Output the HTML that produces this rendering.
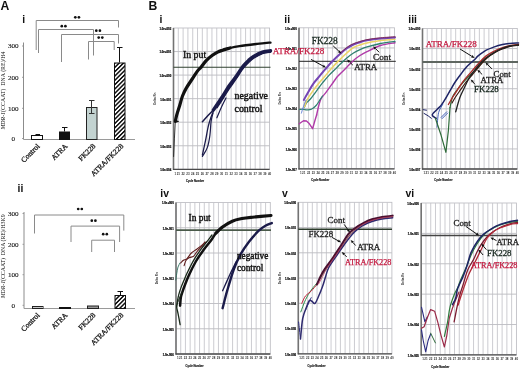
<!DOCTYPE html>
<html><head><meta charset="utf-8"><style>
html,body{margin:0;padding:0;background:#fff;width:520px;height:370px;overflow:hidden}
svg{display:block;filter:blur(0.3px)}
</style></head><body>
<svg width="520" height="370" viewBox="0 0 520 370">
<defs>
<pattern id="hatch" patternUnits="userSpaceOnUse" width="3.05" height="6" patternTransform="rotate(45)">
<rect x="0" y="0" width="1.5" height="6" fill="#111"/>
</pattern>
</defs>
<rect width="520" height="370" fill="#fff"/>

<text x="0.6" y="10.2" font-size="12.2" font-family="Liberation Sans, sans-serif" fill="#111" text-anchor="start" font-weight="bold">A</text>
<text x="22.2" y="22.6" font-size="10.4" font-family="Liberation Sans, sans-serif" fill="#111" text-anchor="start" font-weight="bold">i</text>
<line x1="23.5" y1="42.5" x2="23.5" y2="139.5" stroke="#8c8c8c" stroke-width="1"/>
<line x1="23.5" y1="139.5" x2="135" y2="139.5" stroke="#9a9a9a" stroke-width="1"/>
<line x1="22.0" y1="46" x2="23.5" y2="46" stroke="#8c8c8c" stroke-width="0.8"/>
<text x="13.3" y="48.4" font-size="7.1" font-family="Liberation Serif, serif" fill="#222" text-anchor="middle" stroke="#222" stroke-width="0.15">300</text>
<line x1="22.0" y1="77.3" x2="23.5" y2="77.3" stroke="#8c8c8c" stroke-width="0.8"/>
<text x="13.3" y="79.7" font-size="7.1" font-family="Liberation Serif, serif" fill="#222" text-anchor="middle" stroke="#222" stroke-width="0.15">200</text>
<line x1="22.0" y1="108.3" x2="23.5" y2="108.3" stroke="#8c8c8c" stroke-width="0.8"/>
<text x="13.3" y="110.7" font-size="7.1" font-family="Liberation Serif, serif" fill="#222" text-anchor="middle" stroke="#222" stroke-width="0.15">100</text>
<line x1="22.0" y1="138.5" x2="23.5" y2="138.5" stroke="#8c8c8c" stroke-width="0.8"/>
<text x="13.3" y="140.9" font-size="7.1" font-family="Liberation Serif, serif" fill="#222" text-anchor="middle" stroke="#222" stroke-width="0.15">0</text>
<rect x="31.5" y="135.5" width="11.0" height="4.0" fill="#fff" stroke="#111" stroke-width="1"/>
<rect x="59.5" y="132" width="10.0" height="7.5" fill="#111" stroke="#111" stroke-width="1"/>
<rect x="86.5" y="107.5" width="10.5" height="32.0" fill="#c3d3d1" stroke="#222" stroke-width="1"/>
<rect x="114.5" y="63" width="10.5" height="76.5" fill="url(#hatch)" stroke="#111" stroke-width="1"/>
<path d="M36.2,50 L36.2,20.5 L118.5,20.5 L118.5,27.5" fill="none" stroke="#8a8a8a" stroke-width="1"/>
<path d="M38.5,53 L38.5,29.5 L93.5,29.5 L93.5,55.5" fill="none" stroke="#8a8a8a" stroke-width="1"/>
<path d="M61.5,62 L61.5,34.5 L118.5,34.5 L118.5,43.5" fill="none" stroke="#8a8a8a" stroke-width="1"/>
<path d="M88.5,59.5 L88.5,41.5 L114.2,41.5 L114.2,50" fill="none" stroke="#8a8a8a" stroke-width="1"/>
<circle cx="75.3" cy="17.3" r="1.35" fill="#111"/><circle cx="78.89999999999999" cy="17.3" r="1.35" fill="#111"/>
<circle cx="61.8" cy="26.2" r="1.35" fill="#111"/><circle cx="65.39999999999999" cy="26.2" r="1.35" fill="#111"/>
<circle cx="96.3" cy="30.7" r="1.35" fill="#111"/><circle cx="99.89999999999999" cy="30.7" r="1.35" fill="#111"/>
<circle cx="98.7" cy="37.6" r="1.35" fill="#111"/><circle cx="102.3" cy="37.6" r="1.35" fill="#111"/>
<line x1="64.5" y1="127" x2="64.5" y2="131.5" stroke="#111" stroke-width="1"/>
<line x1="62" y1="127.5" x2="67.5" y2="127.5" stroke="#111" stroke-width="1"/>
<line x1="91.5" y1="100.8" x2="91.5" y2="113.2" stroke="#333" stroke-width="1"/>
<line x1="89" y1="100.5" x2="94.5" y2="100.5" stroke="#333" stroke-width="1"/>
<line x1="89" y1="113.5" x2="94.5" y2="113.5" stroke="#333" stroke-width="1"/>
<line x1="119.5" y1="47.3" x2="119.5" y2="62.5" stroke="#111" stroke-width="1"/>
<line x1="117" y1="47.5" x2="122.5" y2="47.5" stroke="#111" stroke-width="1"/>
<line x1="35.5" y1="134.6" x2="40" y2="134.6" stroke="#111" stroke-width="1.2"/>
<text transform="translate(40.2,146.7) rotate(-45)" font-size="7.5" font-family="Liberation Serif, serif" fill="#111" stroke="#111" stroke-width="0.25" text-anchor="end">Control</text>
<text transform="translate(68,146.7) rotate(-45)" font-size="7.5" font-family="Liberation Serif, serif" fill="#111" stroke="#111" stroke-width="0.25" text-anchor="end">ATRA</text>
<text transform="translate(96,146.7) rotate(-45)" font-size="7.5" font-family="Liberation Serif, serif" fill="#111" stroke="#111" stroke-width="0.25" text-anchor="end">FK228</text>
<text transform="translate(123.8,146.7) rotate(-45)" font-size="7.5" font-family="Liberation Serif, serif" fill="#111" stroke="#111" stroke-width="0.25" text-anchor="end">ATRA/FK228</text>
<text transform="translate(5.3,90.6) rotate(-90)" font-size="5.9" font-family="Liberation Serif, serif" fill="#111" text-anchor="middle" style="white-space:pre"><tspan font-style="italic">MDR-1</tspan>(CCAAT)  DNA (RE)/H4</text>
<text x="17.6" y="191.6" font-size="10.4" font-family="Liberation Sans, sans-serif" fill="#111" text-anchor="start" font-weight="bold">ii</text>
<line x1="24" y1="212" x2="24" y2="308.5" stroke="#8c8c8c" stroke-width="1"/>
<line x1="24" y1="308.5" x2="135" y2="308.5" stroke="#9a9a9a" stroke-width="1"/>
<line x1="22.5" y1="213.5" x2="24" y2="213.5" stroke="#8c8c8c" stroke-width="0.8"/>
<text x="13.3" y="215.9" font-size="7.1" font-family="Liberation Serif, serif" fill="#222" text-anchor="middle" stroke="#222" stroke-width="0.15">300</text>
<line x1="22.5" y1="244.3" x2="24" y2="244.3" stroke="#8c8c8c" stroke-width="0.8"/>
<text x="13.3" y="246.70000000000002" font-size="7.1" font-family="Liberation Serif, serif" fill="#222" text-anchor="middle" stroke="#222" stroke-width="0.15">200</text>
<line x1="22.5" y1="274.7" x2="24" y2="274.7" stroke="#8c8c8c" stroke-width="0.8"/>
<text x="13.3" y="277.09999999999997" font-size="7.1" font-family="Liberation Serif, serif" fill="#222" text-anchor="middle" stroke="#222" stroke-width="0.15">100</text>
<line x1="22.5" y1="305.3" x2="24" y2="305.3" stroke="#8c8c8c" stroke-width="0.8"/>
<text x="13.3" y="307.7" font-size="7.1" font-family="Liberation Serif, serif" fill="#222" text-anchor="middle" stroke="#222" stroke-width="0.15">0</text>
<rect x="32.5" y="306.5" width="10.5" height="2.0" fill="#c8c8c8" stroke="#222" stroke-width="1"/>
<rect x="59.5" y="307.5" width="11.0" height="1.0" fill="#111" stroke="#111" stroke-width="1"/>
<rect x="87.5" y="306" width="11.0" height="2.5" fill="#999" stroke="#222" stroke-width="1"/>
<rect x="115" y="295.5" width="10.5" height="13.0" fill="url(#hatch)" stroke="#111" stroke-width="1"/>
<path d="M34.5,233.5 L34.5,215 L123.8,215 L123.8,230.6" fill="none" stroke="#8a8a8a" stroke-width="1"/>
<path d="M71,242 L71,226.1 L119.6,226.1 L119.6,242" fill="none" stroke="#8a8a8a" stroke-width="1"/>
<path d="M91.7,252 L91.7,240.2 L114.5,240.2 L114.5,252" fill="none" stroke="#8a8a8a" stroke-width="1"/>
<circle cx="78.2" cy="209" r="1.35" fill="#111"/><circle cx="81.8" cy="209" r="1.35" fill="#111"/>
<circle cx="91.8" cy="220.7" r="1.35" fill="#111"/><circle cx="95.39999999999999" cy="220.7" r="1.35" fill="#111"/>
<circle cx="103.2" cy="234.2" r="1.35" fill="#111"/><circle cx="106.8" cy="234.2" r="1.35" fill="#111"/>
<line x1="120.5" y1="291" x2="120.5" y2="295" stroke="#111" stroke-width="1"/>
<line x1="117.5" y1="291.5" x2="123" y2="291.5" stroke="#111" stroke-width="1"/>
<text transform="translate(40.2,315.7) rotate(-45)" font-size="7.5" font-family="Liberation Serif, serif" fill="#111" stroke="#111" stroke-width="0.25" text-anchor="end">Control</text>
<text transform="translate(68,315.7) rotate(-45)" font-size="7.5" font-family="Liberation Serif, serif" fill="#111" stroke="#111" stroke-width="0.25" text-anchor="end">ATRA</text>
<text transform="translate(96,315.7) rotate(-45)" font-size="7.5" font-family="Liberation Serif, serif" fill="#111" stroke="#111" stroke-width="0.25" text-anchor="end">FK228</text>
<text transform="translate(123.8,315.7) rotate(-45)" font-size="7.5" font-family="Liberation Serif, serif" fill="#111" stroke="#111" stroke-width="0.25" text-anchor="end">ATRA/FK228</text>
<text transform="translate(5.3,256.4) rotate(-90)" font-size="5.8" font-family="Liberation Serif, serif" fill="#111" text-anchor="middle" style="white-space:pre"><tspan font-style="italic">MDR-1</tspan>(CCAAT)  DNA (RE)/H3K9</text>
<text x="148.6" y="10.2" font-size="12.2" font-family="Liberation Sans, sans-serif" fill="#111" text-anchor="start" font-weight="bold">B</text>
<text x="159.6" y="22.6" font-size="10.4" font-family="Liberation Sans, sans-serif" fill="#111" text-anchor="start" font-weight="bold">i</text>
<rect x="173.5" y="28" width="96.1" height="141.3" fill="#fff" stroke="#bcbcc2" stroke-width="0.85"/>
<line x1="178.31" y1="28" x2="178.31" y2="169.3" stroke="#c3c3c9" stroke-width="0.85"/>
<line x1="183.11" y1="28" x2="183.11" y2="169.3" stroke="#c3c3c9" stroke-width="0.85"/>
<line x1="187.91" y1="28" x2="187.91" y2="169.3" stroke="#c3c3c9" stroke-width="0.85"/>
<line x1="192.72" y1="28" x2="192.72" y2="169.3" stroke="#c3c3c9" stroke-width="0.85"/>
<line x1="197.53" y1="28" x2="197.53" y2="169.3" stroke="#c3c3c9" stroke-width="0.85"/>
<line x1="202.33" y1="28" x2="202.33" y2="169.3" stroke="#c3c3c9" stroke-width="0.85"/>
<line x1="207.13" y1="28" x2="207.13" y2="169.3" stroke="#c3c3c9" stroke-width="0.85"/>
<line x1="211.94" y1="28" x2="211.94" y2="169.3" stroke="#c3c3c9" stroke-width="0.85"/>
<line x1="216.75" y1="28" x2="216.75" y2="169.3" stroke="#c3c3c9" stroke-width="0.85"/>
<line x1="221.55" y1="28" x2="221.55" y2="169.3" stroke="#c3c3c9" stroke-width="0.85"/>
<line x1="226.36" y1="28" x2="226.36" y2="169.3" stroke="#c3c3c9" stroke-width="0.85"/>
<line x1="231.16" y1="28" x2="231.16" y2="169.3" stroke="#c3c3c9" stroke-width="0.85"/>
<line x1="235.97" y1="28" x2="235.97" y2="169.3" stroke="#c3c3c9" stroke-width="0.85"/>
<line x1="240.77" y1="28" x2="240.77" y2="169.3" stroke="#c3c3c9" stroke-width="0.85"/>
<line x1="245.58" y1="28" x2="245.58" y2="169.3" stroke="#c3c3c9" stroke-width="0.85"/>
<line x1="250.38" y1="28" x2="250.38" y2="169.3" stroke="#c3c3c9" stroke-width="0.85"/>
<line x1="255.19" y1="28" x2="255.19" y2="169.3" stroke="#c3c3c9" stroke-width="0.85"/>
<line x1="259.99" y1="28" x2="259.99" y2="169.3" stroke="#c3c3c9" stroke-width="0.85"/>
<line x1="264.8" y1="28" x2="264.8" y2="169.3" stroke="#c3c3c9" stroke-width="0.85"/>
<line x1="173.5" y1="51.55" x2="269.6" y2="51.55" stroke="#bbbbc1" stroke-width="0.9"/>
<line x1="173.5" y1="75.1" x2="269.6" y2="75.1" stroke="#bbbbc1" stroke-width="0.9"/>
<line x1="173.5" y1="98.65" x2="269.6" y2="98.65" stroke="#bbbbc1" stroke-width="0.9"/>
<line x1="173.5" y1="122.2" x2="269.6" y2="122.2" stroke="#bbbbc1" stroke-width="0.9"/>
<line x1="173.5" y1="145.75" x2="269.6" y2="145.75" stroke="#bbbbc1" stroke-width="0.9"/>
<line x1="173.5" y1="28" x2="173.5" y2="169.8" stroke="#737373" stroke-width="1.6"/>
<line x1="173.0" y1="169.3" x2="269.6" y2="169.3" stroke="#4a4a4a" stroke-width="1.3"/>
<text x="171.2" y="29.9" font-size="2.8" font-family="Liberation Sans, sans-serif" fill="#111" text-anchor="end" font-weight="bold" stroke="#111" stroke-width="0.2">1.0e+002</text>
<text x="171.2" y="53.45" font-size="2.8" font-family="Liberation Sans, sans-serif" fill="#111" text-anchor="end" font-weight="bold" stroke="#111" stroke-width="0.2">1.0e+001</text>
<text x="171.2" y="77.0" font-size="2.8" font-family="Liberation Sans, sans-serif" fill="#111" text-anchor="end" font-weight="bold" stroke="#111" stroke-width="0.2">1.0e+000</text>
<text x="171.2" y="100.55" font-size="2.8" font-family="Liberation Sans, sans-serif" fill="#111" text-anchor="end" font-weight="bold" stroke="#111" stroke-width="0.2">1.0e-001</text>
<text x="171.2" y="124.1" font-size="2.8" font-family="Liberation Sans, sans-serif" fill="#111" text-anchor="end" font-weight="bold" stroke="#111" stroke-width="0.2">1.0e-002</text>
<text x="171.2" y="147.65" font-size="2.8" font-family="Liberation Sans, sans-serif" fill="#111" text-anchor="end" font-weight="bold" stroke="#111" stroke-width="0.2">1.0e-003</text>
<text x="171.2" y="171.2" font-size="2.8" font-family="Liberation Sans, sans-serif" fill="#111" text-anchor="end" font-weight="bold" stroke="#111" stroke-width="0.2">1.0e-004</text>
<text x="175.4" y="174.60000000000002" font-size="3.0" font-family="Liberation Sans, sans-serif" fill="#333" text-anchor="middle" font-weight="bold">1</text>
<text x="178.31" y="174.60000000000002" font-size="3.0" font-family="Liberation Sans, sans-serif" fill="#333" text-anchor="middle" font-weight="bold">21</text>
<text x="183.11" y="174.60000000000002" font-size="3.0" font-family="Liberation Sans, sans-serif" fill="#333" text-anchor="middle" font-weight="bold">22</text>
<text x="187.91" y="174.60000000000002" font-size="3.0" font-family="Liberation Sans, sans-serif" fill="#333" text-anchor="middle" font-weight="bold">23</text>
<text x="192.72" y="174.60000000000002" font-size="3.0" font-family="Liberation Sans, sans-serif" fill="#333" text-anchor="middle" font-weight="bold">24</text>
<text x="197.53" y="174.60000000000002" font-size="3.0" font-family="Liberation Sans, sans-serif" fill="#333" text-anchor="middle" font-weight="bold">25</text>
<text x="202.33" y="174.60000000000002" font-size="3.0" font-family="Liberation Sans, sans-serif" fill="#333" text-anchor="middle" font-weight="bold">26</text>
<text x="207.13" y="174.60000000000002" font-size="3.0" font-family="Liberation Sans, sans-serif" fill="#333" text-anchor="middle" font-weight="bold">27</text>
<text x="211.94" y="174.60000000000002" font-size="3.0" font-family="Liberation Sans, sans-serif" fill="#333" text-anchor="middle" font-weight="bold">28</text>
<text x="216.75" y="174.60000000000002" font-size="3.0" font-family="Liberation Sans, sans-serif" fill="#333" text-anchor="middle" font-weight="bold">29</text>
<text x="221.55" y="174.60000000000002" font-size="3.0" font-family="Liberation Sans, sans-serif" fill="#333" text-anchor="middle" font-weight="bold">30</text>
<text x="226.36" y="174.60000000000002" font-size="3.0" font-family="Liberation Sans, sans-serif" fill="#333" text-anchor="middle" font-weight="bold">31</text>
<text x="231.16" y="174.60000000000002" font-size="3.0" font-family="Liberation Sans, sans-serif" fill="#333" text-anchor="middle" font-weight="bold">32</text>
<text x="235.97" y="174.60000000000002" font-size="3.0" font-family="Liberation Sans, sans-serif" fill="#333" text-anchor="middle" font-weight="bold">33</text>
<text x="240.77" y="174.60000000000002" font-size="3.0" font-family="Liberation Sans, sans-serif" fill="#333" text-anchor="middle" font-weight="bold">34</text>
<text x="245.58" y="174.60000000000002" font-size="3.0" font-family="Liberation Sans, sans-serif" fill="#333" text-anchor="middle" font-weight="bold">35</text>
<text x="250.38" y="174.60000000000002" font-size="3.0" font-family="Liberation Sans, sans-serif" fill="#333" text-anchor="middle" font-weight="bold">36</text>
<text x="255.19" y="174.60000000000002" font-size="3.0" font-family="Liberation Sans, sans-serif" fill="#333" text-anchor="middle" font-weight="bold">37</text>
<text x="259.99" y="174.60000000000002" font-size="3.0" font-family="Liberation Sans, sans-serif" fill="#333" text-anchor="middle" font-weight="bold">38</text>
<text x="264.8" y="174.60000000000002" font-size="3.0" font-family="Liberation Sans, sans-serif" fill="#333" text-anchor="middle" font-weight="bold">39</text>
<text x="269.6" y="174.60000000000002" font-size="3.0" font-family="Liberation Sans, sans-serif" fill="#333" text-anchor="middle" font-weight="bold">40</text>
<text x="195.05" y="181.60000000000002" font-size="2.7" font-family="Liberation Sans, sans-serif" fill="#222" text-anchor="middle" font-weight="bold" stroke="#222" stroke-width="0.15">Cycle Number</text>
<text transform="translate(155.9,98.65) rotate(-90)" font-size="3.0" font-family="Liberation Sans, sans-serif" font-weight="bold" fill="#333" text-anchor="middle">Delta Rn</text>
<text x="284.3" y="22.6" font-size="10.4" font-family="Liberation Sans, sans-serif" fill="#111" text-anchor="start" font-weight="bold">ii</text>
<rect x="299" y="27.8" width="95.5" height="141.1" fill="#fff" stroke="#bcbcc2" stroke-width="0.85"/>
<line x1="303.77" y1="27.8" x2="303.77" y2="168.9" stroke="#c3c3c9" stroke-width="0.85"/>
<line x1="308.55" y1="27.8" x2="308.55" y2="168.9" stroke="#c3c3c9" stroke-width="0.85"/>
<line x1="313.32" y1="27.8" x2="313.32" y2="168.9" stroke="#c3c3c9" stroke-width="0.85"/>
<line x1="318.1" y1="27.8" x2="318.1" y2="168.9" stroke="#c3c3c9" stroke-width="0.85"/>
<line x1="322.88" y1="27.8" x2="322.88" y2="168.9" stroke="#c3c3c9" stroke-width="0.85"/>
<line x1="327.65" y1="27.8" x2="327.65" y2="168.9" stroke="#c3c3c9" stroke-width="0.85"/>
<line x1="332.43" y1="27.8" x2="332.43" y2="168.9" stroke="#c3c3c9" stroke-width="0.85"/>
<line x1="337.2" y1="27.8" x2="337.2" y2="168.9" stroke="#c3c3c9" stroke-width="0.85"/>
<line x1="341.98" y1="27.8" x2="341.98" y2="168.9" stroke="#c3c3c9" stroke-width="0.85"/>
<line x1="346.75" y1="27.8" x2="346.75" y2="168.9" stroke="#c3c3c9" stroke-width="0.85"/>
<line x1="351.52" y1="27.8" x2="351.52" y2="168.9" stroke="#c3c3c9" stroke-width="0.85"/>
<line x1="356.3" y1="27.8" x2="356.3" y2="168.9" stroke="#c3c3c9" stroke-width="0.85"/>
<line x1="361.07" y1="27.8" x2="361.07" y2="168.9" stroke="#c3c3c9" stroke-width="0.85"/>
<line x1="365.85" y1="27.8" x2="365.85" y2="168.9" stroke="#c3c3c9" stroke-width="0.85"/>
<line x1="370.62" y1="27.8" x2="370.62" y2="168.9" stroke="#c3c3c9" stroke-width="0.85"/>
<line x1="375.4" y1="27.8" x2="375.4" y2="168.9" stroke="#c3c3c9" stroke-width="0.85"/>
<line x1="380.18" y1="27.8" x2="380.18" y2="168.9" stroke="#c3c3c9" stroke-width="0.85"/>
<line x1="384.95" y1="27.8" x2="384.95" y2="168.9" stroke="#c3c3c9" stroke-width="0.85"/>
<line x1="389.73" y1="27.8" x2="389.73" y2="168.9" stroke="#c3c3c9" stroke-width="0.85"/>
<line x1="299" y1="47.96" x2="394.5" y2="47.96" stroke="#bbbbc1" stroke-width="0.9"/>
<line x1="299" y1="68.11" x2="394.5" y2="68.11" stroke="#bbbbc1" stroke-width="0.9"/>
<line x1="299" y1="88.27" x2="394.5" y2="88.27" stroke="#bbbbc1" stroke-width="0.9"/>
<line x1="299" y1="108.43" x2="394.5" y2="108.43" stroke="#bbbbc1" stroke-width="0.9"/>
<line x1="299" y1="128.59" x2="394.5" y2="128.59" stroke="#bbbbc1" stroke-width="0.9"/>
<line x1="299" y1="148.74" x2="394.5" y2="148.74" stroke="#bbbbc1" stroke-width="0.9"/>
<line x1="299" y1="27.8" x2="299" y2="169.4" stroke="#737373" stroke-width="1.6"/>
<line x1="298.5" y1="168.9" x2="394.5" y2="168.9" stroke="#4a4a4a" stroke-width="1.3"/>
<text x="296.7" y="29.7" font-size="2.8" font-family="Liberation Sans, sans-serif" fill="#111" text-anchor="end" font-weight="bold" stroke="#111" stroke-width="0.2">1.0e+000</text>
<text x="296.7" y="49.86" font-size="2.8" font-family="Liberation Sans, sans-serif" fill="#111" text-anchor="end" font-weight="bold" stroke="#111" stroke-width="0.2">1.0e-001</text>
<text x="296.7" y="70.01" font-size="2.8" font-family="Liberation Sans, sans-serif" fill="#111" text-anchor="end" font-weight="bold" stroke="#111" stroke-width="0.2">1.0e-002</text>
<text x="296.7" y="90.17" font-size="2.8" font-family="Liberation Sans, sans-serif" fill="#111" text-anchor="end" font-weight="bold" stroke="#111" stroke-width="0.2">1.0e-003</text>
<text x="296.7" y="110.33" font-size="2.8" font-family="Liberation Sans, sans-serif" fill="#111" text-anchor="end" font-weight="bold" stroke="#111" stroke-width="0.2">1.0e-004</text>
<text x="296.7" y="130.49" font-size="2.8" font-family="Liberation Sans, sans-serif" fill="#111" text-anchor="end" font-weight="bold" stroke="#111" stroke-width="0.2">1.0e-005</text>
<text x="296.7" y="150.64" font-size="2.8" font-family="Liberation Sans, sans-serif" fill="#111" text-anchor="end" font-weight="bold" stroke="#111" stroke-width="0.2">1.0e-006</text>
<text x="296.7" y="170.8" font-size="2.8" font-family="Liberation Sans, sans-serif" fill="#111" text-anchor="end" font-weight="bold" stroke="#111" stroke-width="0.2">1.0e-007</text>
<text x="300.9" y="174.20000000000002" font-size="3.0" font-family="Liberation Sans, sans-serif" fill="#333" text-anchor="middle" font-weight="bold">1</text>
<text x="303.77" y="174.20000000000002" font-size="3.0" font-family="Liberation Sans, sans-serif" fill="#333" text-anchor="middle" font-weight="bold">21</text>
<text x="308.55" y="174.20000000000002" font-size="3.0" font-family="Liberation Sans, sans-serif" fill="#333" text-anchor="middle" font-weight="bold">22</text>
<text x="313.32" y="174.20000000000002" font-size="3.0" font-family="Liberation Sans, sans-serif" fill="#333" text-anchor="middle" font-weight="bold">23</text>
<text x="318.1" y="174.20000000000002" font-size="3.0" font-family="Liberation Sans, sans-serif" fill="#333" text-anchor="middle" font-weight="bold">24</text>
<text x="322.88" y="174.20000000000002" font-size="3.0" font-family="Liberation Sans, sans-serif" fill="#333" text-anchor="middle" font-weight="bold">25</text>
<text x="327.65" y="174.20000000000002" font-size="3.0" font-family="Liberation Sans, sans-serif" fill="#333" text-anchor="middle" font-weight="bold">26</text>
<text x="332.43" y="174.20000000000002" font-size="3.0" font-family="Liberation Sans, sans-serif" fill="#333" text-anchor="middle" font-weight="bold">27</text>
<text x="337.2" y="174.20000000000002" font-size="3.0" font-family="Liberation Sans, sans-serif" fill="#333" text-anchor="middle" font-weight="bold">28</text>
<text x="341.98" y="174.20000000000002" font-size="3.0" font-family="Liberation Sans, sans-serif" fill="#333" text-anchor="middle" font-weight="bold">29</text>
<text x="346.75" y="174.20000000000002" font-size="3.0" font-family="Liberation Sans, sans-serif" fill="#333" text-anchor="middle" font-weight="bold">30</text>
<text x="351.52" y="174.20000000000002" font-size="3.0" font-family="Liberation Sans, sans-serif" fill="#333" text-anchor="middle" font-weight="bold">31</text>
<text x="356.3" y="174.20000000000002" font-size="3.0" font-family="Liberation Sans, sans-serif" fill="#333" text-anchor="middle" font-weight="bold">32</text>
<text x="361.07" y="174.20000000000002" font-size="3.0" font-family="Liberation Sans, sans-serif" fill="#333" text-anchor="middle" font-weight="bold">33</text>
<text x="365.85" y="174.20000000000002" font-size="3.0" font-family="Liberation Sans, sans-serif" fill="#333" text-anchor="middle" font-weight="bold">34</text>
<text x="370.62" y="174.20000000000002" font-size="3.0" font-family="Liberation Sans, sans-serif" fill="#333" text-anchor="middle" font-weight="bold">35</text>
<text x="375.4" y="174.20000000000002" font-size="3.0" font-family="Liberation Sans, sans-serif" fill="#333" text-anchor="middle" font-weight="bold">36</text>
<text x="380.18" y="174.20000000000002" font-size="3.0" font-family="Liberation Sans, sans-serif" fill="#333" text-anchor="middle" font-weight="bold">37</text>
<text x="384.95" y="174.20000000000002" font-size="3.0" font-family="Liberation Sans, sans-serif" fill="#333" text-anchor="middle" font-weight="bold">38</text>
<text x="389.73" y="174.20000000000002" font-size="3.0" font-family="Liberation Sans, sans-serif" fill="#333" text-anchor="middle" font-weight="bold">39</text>
<text x="394.5" y="174.20000000000002" font-size="3.0" font-family="Liberation Sans, sans-serif" fill="#333" text-anchor="middle" font-weight="bold">40</text>
<text x="320.25" y="181.20000000000002" font-size="2.7" font-family="Liberation Sans, sans-serif" fill="#222" text-anchor="middle" font-weight="bold" stroke="#222" stroke-width="0.15">Cycle Number</text>
<text transform="translate(281.4,98.35000000000001) rotate(-90)" font-size="3.0" font-family="Liberation Sans, sans-serif" font-weight="bold" fill="#333" text-anchor="middle">Delta Rn</text>
<text x="408.3" y="22.6" font-size="10.4" font-family="Liberation Sans, sans-serif" fill="#111" text-anchor="start" font-weight="bold">iii</text>
<rect x="422.5" y="28.5" width="94.8" height="140.5" fill="#fff" stroke="#bcbcc2" stroke-width="0.85"/>
<line x1="427.24" y1="28.5" x2="427.24" y2="169" stroke="#c3c3c9" stroke-width="0.85"/>
<line x1="431.98" y1="28.5" x2="431.98" y2="169" stroke="#c3c3c9" stroke-width="0.85"/>
<line x1="436.72" y1="28.5" x2="436.72" y2="169" stroke="#c3c3c9" stroke-width="0.85"/>
<line x1="441.46" y1="28.5" x2="441.46" y2="169" stroke="#c3c3c9" stroke-width="0.85"/>
<line x1="446.2" y1="28.5" x2="446.2" y2="169" stroke="#c3c3c9" stroke-width="0.85"/>
<line x1="450.94" y1="28.5" x2="450.94" y2="169" stroke="#c3c3c9" stroke-width="0.85"/>
<line x1="455.68" y1="28.5" x2="455.68" y2="169" stroke="#c3c3c9" stroke-width="0.85"/>
<line x1="460.42" y1="28.5" x2="460.42" y2="169" stroke="#c3c3c9" stroke-width="0.85"/>
<line x1="465.16" y1="28.5" x2="465.16" y2="169" stroke="#c3c3c9" stroke-width="0.85"/>
<line x1="469.9" y1="28.5" x2="469.9" y2="169" stroke="#c3c3c9" stroke-width="0.85"/>
<line x1="474.64" y1="28.5" x2="474.64" y2="169" stroke="#c3c3c9" stroke-width="0.85"/>
<line x1="479.38" y1="28.5" x2="479.38" y2="169" stroke="#c3c3c9" stroke-width="0.85"/>
<line x1="484.12" y1="28.5" x2="484.12" y2="169" stroke="#c3c3c9" stroke-width="0.85"/>
<line x1="488.86" y1="28.5" x2="488.86" y2="169" stroke="#c3c3c9" stroke-width="0.85"/>
<line x1="493.6" y1="28.5" x2="493.6" y2="169" stroke="#c3c3c9" stroke-width="0.85"/>
<line x1="498.34" y1="28.5" x2="498.34" y2="169" stroke="#c3c3c9" stroke-width="0.85"/>
<line x1="503.08" y1="28.5" x2="503.08" y2="169" stroke="#c3c3c9" stroke-width="0.85"/>
<line x1="507.82" y1="28.5" x2="507.82" y2="169" stroke="#c3c3c9" stroke-width="0.85"/>
<line x1="512.56" y1="28.5" x2="512.56" y2="169" stroke="#c3c3c9" stroke-width="0.85"/>
<line x1="422.5" y1="48.57" x2="517.3" y2="48.57" stroke="#bbbbc1" stroke-width="0.9"/>
<line x1="422.5" y1="68.64" x2="517.3" y2="68.64" stroke="#bbbbc1" stroke-width="0.9"/>
<line x1="422.5" y1="88.71" x2="517.3" y2="88.71" stroke="#bbbbc1" stroke-width="0.9"/>
<line x1="422.5" y1="108.79" x2="517.3" y2="108.79" stroke="#bbbbc1" stroke-width="0.9"/>
<line x1="422.5" y1="128.86" x2="517.3" y2="128.86" stroke="#bbbbc1" stroke-width="0.9"/>
<line x1="422.5" y1="148.93" x2="517.3" y2="148.93" stroke="#bbbbc1" stroke-width="0.9"/>
<line x1="422.5" y1="28.5" x2="422.5" y2="169.5" stroke="#737373" stroke-width="1.6"/>
<line x1="422.0" y1="169" x2="517.3" y2="169" stroke="#4a4a4a" stroke-width="1.3"/>
<text x="420.2" y="30.4" font-size="2.8" font-family="Liberation Sans, sans-serif" fill="#111" text-anchor="end" font-weight="bold" stroke="#111" stroke-width="0.2">1.0e+000</text>
<text x="420.2" y="50.47" font-size="2.8" font-family="Liberation Sans, sans-serif" fill="#111" text-anchor="end" font-weight="bold" stroke="#111" stroke-width="0.2">1.0e-001</text>
<text x="420.2" y="70.54" font-size="2.8" font-family="Liberation Sans, sans-serif" fill="#111" text-anchor="end" font-weight="bold" stroke="#111" stroke-width="0.2">1.0e-002</text>
<text x="420.2" y="90.61" font-size="2.8" font-family="Liberation Sans, sans-serif" fill="#111" text-anchor="end" font-weight="bold" stroke="#111" stroke-width="0.2">1.0e-003</text>
<text x="420.2" y="110.69" font-size="2.8" font-family="Liberation Sans, sans-serif" fill="#111" text-anchor="end" font-weight="bold" stroke="#111" stroke-width="0.2">1.0e-004</text>
<text x="420.2" y="130.76" font-size="2.8" font-family="Liberation Sans, sans-serif" fill="#111" text-anchor="end" font-weight="bold" stroke="#111" stroke-width="0.2">1.0e-005</text>
<text x="420.2" y="150.83" font-size="2.8" font-family="Liberation Sans, sans-serif" fill="#111" text-anchor="end" font-weight="bold" stroke="#111" stroke-width="0.2">1.0e-006</text>
<text x="420.2" y="170.9" font-size="2.8" font-family="Liberation Sans, sans-serif" fill="#111" text-anchor="end" font-weight="bold" stroke="#111" stroke-width="0.2">1.0e-007</text>
<text x="424.4" y="174.3" font-size="3.0" font-family="Liberation Sans, sans-serif" fill="#333" text-anchor="middle" font-weight="bold">1</text>
<text x="427.24" y="174.3" font-size="3.0" font-family="Liberation Sans, sans-serif" fill="#333" text-anchor="middle" font-weight="bold">21</text>
<text x="431.98" y="174.3" font-size="3.0" font-family="Liberation Sans, sans-serif" fill="#333" text-anchor="middle" font-weight="bold">22</text>
<text x="436.72" y="174.3" font-size="3.0" font-family="Liberation Sans, sans-serif" fill="#333" text-anchor="middle" font-weight="bold">23</text>
<text x="441.46" y="174.3" font-size="3.0" font-family="Liberation Sans, sans-serif" fill="#333" text-anchor="middle" font-weight="bold">24</text>
<text x="446.2" y="174.3" font-size="3.0" font-family="Liberation Sans, sans-serif" fill="#333" text-anchor="middle" font-weight="bold">25</text>
<text x="450.94" y="174.3" font-size="3.0" font-family="Liberation Sans, sans-serif" fill="#333" text-anchor="middle" font-weight="bold">26</text>
<text x="455.68" y="174.3" font-size="3.0" font-family="Liberation Sans, sans-serif" fill="#333" text-anchor="middle" font-weight="bold">27</text>
<text x="460.42" y="174.3" font-size="3.0" font-family="Liberation Sans, sans-serif" fill="#333" text-anchor="middle" font-weight="bold">28</text>
<text x="465.16" y="174.3" font-size="3.0" font-family="Liberation Sans, sans-serif" fill="#333" text-anchor="middle" font-weight="bold">29</text>
<text x="469.9" y="174.3" font-size="3.0" font-family="Liberation Sans, sans-serif" fill="#333" text-anchor="middle" font-weight="bold">30</text>
<text x="474.64" y="174.3" font-size="3.0" font-family="Liberation Sans, sans-serif" fill="#333" text-anchor="middle" font-weight="bold">31</text>
<text x="479.38" y="174.3" font-size="3.0" font-family="Liberation Sans, sans-serif" fill="#333" text-anchor="middle" font-weight="bold">32</text>
<text x="484.12" y="174.3" font-size="3.0" font-family="Liberation Sans, sans-serif" fill="#333" text-anchor="middle" font-weight="bold">33</text>
<text x="488.86" y="174.3" font-size="3.0" font-family="Liberation Sans, sans-serif" fill="#333" text-anchor="middle" font-weight="bold">34</text>
<text x="493.6" y="174.3" font-size="3.0" font-family="Liberation Sans, sans-serif" fill="#333" text-anchor="middle" font-weight="bold">35</text>
<text x="498.34" y="174.3" font-size="3.0" font-family="Liberation Sans, sans-serif" fill="#333" text-anchor="middle" font-weight="bold">36</text>
<text x="503.08" y="174.3" font-size="3.0" font-family="Liberation Sans, sans-serif" fill="#333" text-anchor="middle" font-weight="bold">37</text>
<text x="507.82" y="174.3" font-size="3.0" font-family="Liberation Sans, sans-serif" fill="#333" text-anchor="middle" font-weight="bold">38</text>
<text x="512.56" y="174.3" font-size="3.0" font-family="Liberation Sans, sans-serif" fill="#333" text-anchor="middle" font-weight="bold">39</text>
<text x="517.3" y="174.3" font-size="3.0" font-family="Liberation Sans, sans-serif" fill="#333" text-anchor="middle" font-weight="bold">40</text>
<text x="443.4" y="181.3" font-size="2.7" font-family="Liberation Sans, sans-serif" fill="#222" text-anchor="middle" font-weight="bold" stroke="#222" stroke-width="0.15">Cycle Number</text>
<text transform="translate(404.9,98.75) rotate(-90)" font-size="3.0" font-family="Liberation Sans, sans-serif" font-weight="bold" fill="#333" text-anchor="middle">Delta Rn</text>
<text x="160.3" y="196.6" font-size="10.4" font-family="Liberation Sans, sans-serif" fill="#111" text-anchor="start" font-weight="bold">iv</text>
<rect x="176" y="202.5" width="94.3" height="151.5" fill="#fff" stroke="#bcbcc2" stroke-width="0.85"/>
<line x1="180.72" y1="202.5" x2="180.72" y2="354" stroke="#c3c3c9" stroke-width="0.85"/>
<line x1="185.43" y1="202.5" x2="185.43" y2="354" stroke="#c3c3c9" stroke-width="0.85"/>
<line x1="190.15" y1="202.5" x2="190.15" y2="354" stroke="#c3c3c9" stroke-width="0.85"/>
<line x1="194.86" y1="202.5" x2="194.86" y2="354" stroke="#c3c3c9" stroke-width="0.85"/>
<line x1="199.57" y1="202.5" x2="199.57" y2="354" stroke="#c3c3c9" stroke-width="0.85"/>
<line x1="204.29" y1="202.5" x2="204.29" y2="354" stroke="#c3c3c9" stroke-width="0.85"/>
<line x1="209.0" y1="202.5" x2="209.0" y2="354" stroke="#c3c3c9" stroke-width="0.85"/>
<line x1="213.72" y1="202.5" x2="213.72" y2="354" stroke="#c3c3c9" stroke-width="0.85"/>
<line x1="218.44" y1="202.5" x2="218.44" y2="354" stroke="#c3c3c9" stroke-width="0.85"/>
<line x1="223.15" y1="202.5" x2="223.15" y2="354" stroke="#c3c3c9" stroke-width="0.85"/>
<line x1="227.87" y1="202.5" x2="227.87" y2="354" stroke="#c3c3c9" stroke-width="0.85"/>
<line x1="232.58" y1="202.5" x2="232.58" y2="354" stroke="#c3c3c9" stroke-width="0.85"/>
<line x1="237.3" y1="202.5" x2="237.3" y2="354" stroke="#c3c3c9" stroke-width="0.85"/>
<line x1="242.01" y1="202.5" x2="242.01" y2="354" stroke="#c3c3c9" stroke-width="0.85"/>
<line x1="246.73" y1="202.5" x2="246.73" y2="354" stroke="#c3c3c9" stroke-width="0.85"/>
<line x1="251.44" y1="202.5" x2="251.44" y2="354" stroke="#c3c3c9" stroke-width="0.85"/>
<line x1="256.15" y1="202.5" x2="256.15" y2="354" stroke="#c3c3c9" stroke-width="0.85"/>
<line x1="260.87" y1="202.5" x2="260.87" y2="354" stroke="#c3c3c9" stroke-width="0.85"/>
<line x1="265.59" y1="202.5" x2="265.59" y2="354" stroke="#c3c3c9" stroke-width="0.85"/>
<line x1="176" y1="227.75" x2="270.3" y2="227.75" stroke="#bbbbc1" stroke-width="0.9"/>
<line x1="176" y1="253.0" x2="270.3" y2="253.0" stroke="#bbbbc1" stroke-width="0.9"/>
<line x1="176" y1="278.25" x2="270.3" y2="278.25" stroke="#bbbbc1" stroke-width="0.9"/>
<line x1="176" y1="303.5" x2="270.3" y2="303.5" stroke="#bbbbc1" stroke-width="0.9"/>
<line x1="176" y1="328.75" x2="270.3" y2="328.75" stroke="#bbbbc1" stroke-width="0.9"/>
<line x1="176" y1="202.5" x2="176" y2="354.5" stroke="#737373" stroke-width="1.6"/>
<line x1="175.5" y1="354" x2="270.3" y2="354" stroke="#4a4a4a" stroke-width="1.3"/>
<text x="173.7" y="204.4" font-size="2.8" font-family="Liberation Sans, sans-serif" fill="#111" text-anchor="end" font-weight="bold" stroke="#111" stroke-width="0.2">1.0e+000</text>
<text x="173.7" y="229.65" font-size="2.8" font-family="Liberation Sans, sans-serif" fill="#111" text-anchor="end" font-weight="bold" stroke="#111" stroke-width="0.2">1.0e-001</text>
<text x="173.7" y="254.9" font-size="2.8" font-family="Liberation Sans, sans-serif" fill="#111" text-anchor="end" font-weight="bold" stroke="#111" stroke-width="0.2">1.0e-002</text>
<text x="173.7" y="280.15" font-size="2.8" font-family="Liberation Sans, sans-serif" fill="#111" text-anchor="end" font-weight="bold" stroke="#111" stroke-width="0.2">1.0e-003</text>
<text x="173.7" y="305.4" font-size="2.8" font-family="Liberation Sans, sans-serif" fill="#111" text-anchor="end" font-weight="bold" stroke="#111" stroke-width="0.2">1.0e-004</text>
<text x="173.7" y="330.65" font-size="2.8" font-family="Liberation Sans, sans-serif" fill="#111" text-anchor="end" font-weight="bold" stroke="#111" stroke-width="0.2">1.0e-005</text>
<text x="173.7" y="355.9" font-size="2.8" font-family="Liberation Sans, sans-serif" fill="#111" text-anchor="end" font-weight="bold" stroke="#111" stroke-width="0.2">1.0e-006</text>
<text x="177.9" y="359.3" font-size="3.0" font-family="Liberation Sans, sans-serif" fill="#333" text-anchor="middle" font-weight="bold">1</text>
<text x="180.72" y="359.3" font-size="3.0" font-family="Liberation Sans, sans-serif" fill="#333" text-anchor="middle" font-weight="bold">21</text>
<text x="185.43" y="359.3" font-size="3.0" font-family="Liberation Sans, sans-serif" fill="#333" text-anchor="middle" font-weight="bold">22</text>
<text x="190.15" y="359.3" font-size="3.0" font-family="Liberation Sans, sans-serif" fill="#333" text-anchor="middle" font-weight="bold">23</text>
<text x="194.86" y="359.3" font-size="3.0" font-family="Liberation Sans, sans-serif" fill="#333" text-anchor="middle" font-weight="bold">24</text>
<text x="199.57" y="359.3" font-size="3.0" font-family="Liberation Sans, sans-serif" fill="#333" text-anchor="middle" font-weight="bold">25</text>
<text x="204.29" y="359.3" font-size="3.0" font-family="Liberation Sans, sans-serif" fill="#333" text-anchor="middle" font-weight="bold">26</text>
<text x="209.0" y="359.3" font-size="3.0" font-family="Liberation Sans, sans-serif" fill="#333" text-anchor="middle" font-weight="bold">27</text>
<text x="213.72" y="359.3" font-size="3.0" font-family="Liberation Sans, sans-serif" fill="#333" text-anchor="middle" font-weight="bold">28</text>
<text x="218.44" y="359.3" font-size="3.0" font-family="Liberation Sans, sans-serif" fill="#333" text-anchor="middle" font-weight="bold">29</text>
<text x="223.15" y="359.3" font-size="3.0" font-family="Liberation Sans, sans-serif" fill="#333" text-anchor="middle" font-weight="bold">30</text>
<text x="227.87" y="359.3" font-size="3.0" font-family="Liberation Sans, sans-serif" fill="#333" text-anchor="middle" font-weight="bold">31</text>
<text x="232.58" y="359.3" font-size="3.0" font-family="Liberation Sans, sans-serif" fill="#333" text-anchor="middle" font-weight="bold">32</text>
<text x="237.3" y="359.3" font-size="3.0" font-family="Liberation Sans, sans-serif" fill="#333" text-anchor="middle" font-weight="bold">33</text>
<text x="242.01" y="359.3" font-size="3.0" font-family="Liberation Sans, sans-serif" fill="#333" text-anchor="middle" font-weight="bold">34</text>
<text x="246.73" y="359.3" font-size="3.0" font-family="Liberation Sans, sans-serif" fill="#333" text-anchor="middle" font-weight="bold">35</text>
<text x="251.44" y="359.3" font-size="3.0" font-family="Liberation Sans, sans-serif" fill="#333" text-anchor="middle" font-weight="bold">36</text>
<text x="256.15" y="359.3" font-size="3.0" font-family="Liberation Sans, sans-serif" fill="#333" text-anchor="middle" font-weight="bold">37</text>
<text x="260.87" y="359.3" font-size="3.0" font-family="Liberation Sans, sans-serif" fill="#333" text-anchor="middle" font-weight="bold">38</text>
<text x="265.59" y="359.3" font-size="3.0" font-family="Liberation Sans, sans-serif" fill="#333" text-anchor="middle" font-weight="bold">39</text>
<text x="270.3" y="359.3" font-size="3.0" font-family="Liberation Sans, sans-serif" fill="#333" text-anchor="middle" font-weight="bold">40</text>
<text x="194.55" y="367.4" font-size="2.7" font-family="Liberation Sans, sans-serif" fill="#222" text-anchor="middle" font-weight="bold" stroke="#222" stroke-width="0.15">Cycle Number</text>
<text transform="translate(158.4,278.25) rotate(-90)" font-size="3.0" font-family="Liberation Sans, sans-serif" font-weight="bold" fill="#333" text-anchor="middle">Delta Rn</text>
<text x="282" y="196.6" font-size="10.4" font-family="Liberation Sans, sans-serif" fill="#111" text-anchor="start" font-weight="bold">v</text>
<rect x="298.3" y="202.3" width="93.6" height="151.5" fill="#fff" stroke="#bcbcc2" stroke-width="0.85"/>
<line x1="302.98" y1="202.3" x2="302.98" y2="353.8" stroke="#c3c3c9" stroke-width="0.85"/>
<line x1="307.66" y1="202.3" x2="307.66" y2="353.8" stroke="#c3c3c9" stroke-width="0.85"/>
<line x1="312.34" y1="202.3" x2="312.34" y2="353.8" stroke="#c3c3c9" stroke-width="0.85"/>
<line x1="317.02" y1="202.3" x2="317.02" y2="353.8" stroke="#c3c3c9" stroke-width="0.85"/>
<line x1="321.7" y1="202.3" x2="321.7" y2="353.8" stroke="#c3c3c9" stroke-width="0.85"/>
<line x1="326.38" y1="202.3" x2="326.38" y2="353.8" stroke="#c3c3c9" stroke-width="0.85"/>
<line x1="331.06" y1="202.3" x2="331.06" y2="353.8" stroke="#c3c3c9" stroke-width="0.85"/>
<line x1="335.74" y1="202.3" x2="335.74" y2="353.8" stroke="#c3c3c9" stroke-width="0.85"/>
<line x1="340.42" y1="202.3" x2="340.42" y2="353.8" stroke="#c3c3c9" stroke-width="0.85"/>
<line x1="345.1" y1="202.3" x2="345.1" y2="353.8" stroke="#c3c3c9" stroke-width="0.85"/>
<line x1="349.78" y1="202.3" x2="349.78" y2="353.8" stroke="#c3c3c9" stroke-width="0.85"/>
<line x1="354.46" y1="202.3" x2="354.46" y2="353.8" stroke="#c3c3c9" stroke-width="0.85"/>
<line x1="359.14" y1="202.3" x2="359.14" y2="353.8" stroke="#c3c3c9" stroke-width="0.85"/>
<line x1="363.82" y1="202.3" x2="363.82" y2="353.8" stroke="#c3c3c9" stroke-width="0.85"/>
<line x1="368.5" y1="202.3" x2="368.5" y2="353.8" stroke="#c3c3c9" stroke-width="0.85"/>
<line x1="373.18" y1="202.3" x2="373.18" y2="353.8" stroke="#c3c3c9" stroke-width="0.85"/>
<line x1="377.86" y1="202.3" x2="377.86" y2="353.8" stroke="#c3c3c9" stroke-width="0.85"/>
<line x1="382.54" y1="202.3" x2="382.54" y2="353.8" stroke="#c3c3c9" stroke-width="0.85"/>
<line x1="387.22" y1="202.3" x2="387.22" y2="353.8" stroke="#c3c3c9" stroke-width="0.85"/>
<line x1="298.3" y1="227.55" x2="391.9" y2="227.55" stroke="#bbbbc1" stroke-width="0.9"/>
<line x1="298.3" y1="252.8" x2="391.9" y2="252.8" stroke="#bbbbc1" stroke-width="0.9"/>
<line x1="298.3" y1="278.05" x2="391.9" y2="278.05" stroke="#bbbbc1" stroke-width="0.9"/>
<line x1="298.3" y1="303.3" x2="391.9" y2="303.3" stroke="#bbbbc1" stroke-width="0.9"/>
<line x1="298.3" y1="328.55" x2="391.9" y2="328.55" stroke="#bbbbc1" stroke-width="0.9"/>
<line x1="298.3" y1="202.3" x2="298.3" y2="354.3" stroke="#737373" stroke-width="1.6"/>
<line x1="297.8" y1="353.8" x2="391.9" y2="353.8" stroke="#4a4a4a" stroke-width="1.3"/>
<text x="296.0" y="204.2" font-size="2.8" font-family="Liberation Sans, sans-serif" fill="#111" text-anchor="end" font-weight="bold" stroke="#111" stroke-width="0.2">1.0e+000</text>
<text x="296.0" y="229.45" font-size="2.8" font-family="Liberation Sans, sans-serif" fill="#111" text-anchor="end" font-weight="bold" stroke="#111" stroke-width="0.2">1.0e-001</text>
<text x="296.0" y="254.7" font-size="2.8" font-family="Liberation Sans, sans-serif" fill="#111" text-anchor="end" font-weight="bold" stroke="#111" stroke-width="0.2">1.0e-002</text>
<text x="296.0" y="279.95" font-size="2.8" font-family="Liberation Sans, sans-serif" fill="#111" text-anchor="end" font-weight="bold" stroke="#111" stroke-width="0.2">1.0e-003</text>
<text x="296.0" y="305.2" font-size="2.8" font-family="Liberation Sans, sans-serif" fill="#111" text-anchor="end" font-weight="bold" stroke="#111" stroke-width="0.2">1.0e-004</text>
<text x="296.0" y="330.45" font-size="2.8" font-family="Liberation Sans, sans-serif" fill="#111" text-anchor="end" font-weight="bold" stroke="#111" stroke-width="0.2">1.0e-005</text>
<text x="296.0" y="355.7" font-size="2.8" font-family="Liberation Sans, sans-serif" fill="#111" text-anchor="end" font-weight="bold" stroke="#111" stroke-width="0.2">1.0e-006</text>
<text x="300.2" y="359.1" font-size="3.0" font-family="Liberation Sans, sans-serif" fill="#333" text-anchor="middle" font-weight="bold">1</text>
<text x="302.98" y="359.1" font-size="3.0" font-family="Liberation Sans, sans-serif" fill="#333" text-anchor="middle" font-weight="bold">21</text>
<text x="307.66" y="359.1" font-size="3.0" font-family="Liberation Sans, sans-serif" fill="#333" text-anchor="middle" font-weight="bold">22</text>
<text x="312.34" y="359.1" font-size="3.0" font-family="Liberation Sans, sans-serif" fill="#333" text-anchor="middle" font-weight="bold">23</text>
<text x="317.02" y="359.1" font-size="3.0" font-family="Liberation Sans, sans-serif" fill="#333" text-anchor="middle" font-weight="bold">24</text>
<text x="321.7" y="359.1" font-size="3.0" font-family="Liberation Sans, sans-serif" fill="#333" text-anchor="middle" font-weight="bold">25</text>
<text x="326.38" y="359.1" font-size="3.0" font-family="Liberation Sans, sans-serif" fill="#333" text-anchor="middle" font-weight="bold">26</text>
<text x="331.06" y="359.1" font-size="3.0" font-family="Liberation Sans, sans-serif" fill="#333" text-anchor="middle" font-weight="bold">27</text>
<text x="335.74" y="359.1" font-size="3.0" font-family="Liberation Sans, sans-serif" fill="#333" text-anchor="middle" font-weight="bold">28</text>
<text x="340.42" y="359.1" font-size="3.0" font-family="Liberation Sans, sans-serif" fill="#333" text-anchor="middle" font-weight="bold">29</text>
<text x="345.1" y="359.1" font-size="3.0" font-family="Liberation Sans, sans-serif" fill="#333" text-anchor="middle" font-weight="bold">30</text>
<text x="349.78" y="359.1" font-size="3.0" font-family="Liberation Sans, sans-serif" fill="#333" text-anchor="middle" font-weight="bold">31</text>
<text x="354.46" y="359.1" font-size="3.0" font-family="Liberation Sans, sans-serif" fill="#333" text-anchor="middle" font-weight="bold">32</text>
<text x="359.14" y="359.1" font-size="3.0" font-family="Liberation Sans, sans-serif" fill="#333" text-anchor="middle" font-weight="bold">33</text>
<text x="363.82" y="359.1" font-size="3.0" font-family="Liberation Sans, sans-serif" fill="#333" text-anchor="middle" font-weight="bold">34</text>
<text x="368.5" y="359.1" font-size="3.0" font-family="Liberation Sans, sans-serif" fill="#333" text-anchor="middle" font-weight="bold">35</text>
<text x="373.18" y="359.1" font-size="3.0" font-family="Liberation Sans, sans-serif" fill="#333" text-anchor="middle" font-weight="bold">36</text>
<text x="377.86" y="359.1" font-size="3.0" font-family="Liberation Sans, sans-serif" fill="#333" text-anchor="middle" font-weight="bold">37</text>
<text x="382.54" y="359.1" font-size="3.0" font-family="Liberation Sans, sans-serif" fill="#333" text-anchor="middle" font-weight="bold">38</text>
<text x="387.22" y="359.1" font-size="3.0" font-family="Liberation Sans, sans-serif" fill="#333" text-anchor="middle" font-weight="bold">39</text>
<text x="391.9" y="359.1" font-size="3.0" font-family="Liberation Sans, sans-serif" fill="#333" text-anchor="middle" font-weight="bold">40</text>
<text x="316.5" y="367.2" font-size="2.7" font-family="Liberation Sans, sans-serif" fill="#222" text-anchor="middle" font-weight="bold" stroke="#222" stroke-width="0.15">Cycle Number</text>
<text transform="translate(280.7,278.05) rotate(-90)" font-size="3.0" font-family="Liberation Sans, sans-serif" font-weight="bold" fill="#333" text-anchor="middle">Delta Rn</text>
<text x="405.5" y="196.6" font-size="10.4" font-family="Liberation Sans, sans-serif" fill="#111" text-anchor="start" font-weight="bold">vi</text>
<rect x="421.2" y="203" width="95.2" height="151.9" fill="#fff" stroke="#bcbcc2" stroke-width="0.85"/>
<line x1="425.96" y1="203" x2="425.96" y2="354.9" stroke="#c3c3c9" stroke-width="0.85"/>
<line x1="430.72" y1="203" x2="430.72" y2="354.9" stroke="#c3c3c9" stroke-width="0.85"/>
<line x1="435.48" y1="203" x2="435.48" y2="354.9" stroke="#c3c3c9" stroke-width="0.85"/>
<line x1="440.24" y1="203" x2="440.24" y2="354.9" stroke="#c3c3c9" stroke-width="0.85"/>
<line x1="445.0" y1="203" x2="445.0" y2="354.9" stroke="#c3c3c9" stroke-width="0.85"/>
<line x1="449.76" y1="203" x2="449.76" y2="354.9" stroke="#c3c3c9" stroke-width="0.85"/>
<line x1="454.52" y1="203" x2="454.52" y2="354.9" stroke="#c3c3c9" stroke-width="0.85"/>
<line x1="459.28" y1="203" x2="459.28" y2="354.9" stroke="#c3c3c9" stroke-width="0.85"/>
<line x1="464.04" y1="203" x2="464.04" y2="354.9" stroke="#c3c3c9" stroke-width="0.85"/>
<line x1="468.8" y1="203" x2="468.8" y2="354.9" stroke="#c3c3c9" stroke-width="0.85"/>
<line x1="473.56" y1="203" x2="473.56" y2="354.9" stroke="#c3c3c9" stroke-width="0.85"/>
<line x1="478.32" y1="203" x2="478.32" y2="354.9" stroke="#c3c3c9" stroke-width="0.85"/>
<line x1="483.08" y1="203" x2="483.08" y2="354.9" stroke="#c3c3c9" stroke-width="0.85"/>
<line x1="487.84" y1="203" x2="487.84" y2="354.9" stroke="#c3c3c9" stroke-width="0.85"/>
<line x1="492.6" y1="203" x2="492.6" y2="354.9" stroke="#c3c3c9" stroke-width="0.85"/>
<line x1="497.36" y1="203" x2="497.36" y2="354.9" stroke="#c3c3c9" stroke-width="0.85"/>
<line x1="502.12" y1="203" x2="502.12" y2="354.9" stroke="#c3c3c9" stroke-width="0.85"/>
<line x1="506.88" y1="203" x2="506.88" y2="354.9" stroke="#c3c3c9" stroke-width="0.85"/>
<line x1="511.64" y1="203" x2="511.64" y2="354.9" stroke="#c3c3c9" stroke-width="0.85"/>
<line x1="421.2" y1="233.38" x2="516.4" y2="233.38" stroke="#bbbbc1" stroke-width="0.9"/>
<line x1="421.2" y1="263.76" x2="516.4" y2="263.76" stroke="#bbbbc1" stroke-width="0.9"/>
<line x1="421.2" y1="294.14" x2="516.4" y2="294.14" stroke="#bbbbc1" stroke-width="0.9"/>
<line x1="421.2" y1="324.52" x2="516.4" y2="324.52" stroke="#bbbbc1" stroke-width="0.9"/>
<line x1="421.2" y1="203" x2="421.2" y2="355.4" stroke="#737373" stroke-width="1.6"/>
<line x1="420.7" y1="354.9" x2="516.4" y2="354.9" stroke="#4a4a4a" stroke-width="1.3"/>
<text x="418.9" y="204.9" font-size="2.8" font-family="Liberation Sans, sans-serif" fill="#111" text-anchor="end" font-weight="bold" stroke="#111" stroke-width="0.2">1.0e+000</text>
<text x="418.9" y="235.28" font-size="2.8" font-family="Liberation Sans, sans-serif" fill="#111" text-anchor="end" font-weight="bold" stroke="#111" stroke-width="0.2">1.0e-001</text>
<text x="418.9" y="265.66" font-size="2.8" font-family="Liberation Sans, sans-serif" fill="#111" text-anchor="end" font-weight="bold" stroke="#111" stroke-width="0.2">1.0e-002</text>
<text x="418.9" y="296.04" font-size="2.8" font-family="Liberation Sans, sans-serif" fill="#111" text-anchor="end" font-weight="bold" stroke="#111" stroke-width="0.2">1.0e-003</text>
<text x="418.9" y="326.42" font-size="2.8" font-family="Liberation Sans, sans-serif" fill="#111" text-anchor="end" font-weight="bold" stroke="#111" stroke-width="0.2">1.0e-004</text>
<text x="418.9" y="356.8" font-size="2.8" font-family="Liberation Sans, sans-serif" fill="#111" text-anchor="end" font-weight="bold" stroke="#111" stroke-width="0.2">1.0e-005</text>
<text x="423.1" y="360.2" font-size="3.0" font-family="Liberation Sans, sans-serif" fill="#333" text-anchor="middle" font-weight="bold">1</text>
<text x="425.96" y="360.2" font-size="3.0" font-family="Liberation Sans, sans-serif" fill="#333" text-anchor="middle" font-weight="bold">21</text>
<text x="430.72" y="360.2" font-size="3.0" font-family="Liberation Sans, sans-serif" fill="#333" text-anchor="middle" font-weight="bold">22</text>
<text x="435.48" y="360.2" font-size="3.0" font-family="Liberation Sans, sans-serif" fill="#333" text-anchor="middle" font-weight="bold">23</text>
<text x="440.24" y="360.2" font-size="3.0" font-family="Liberation Sans, sans-serif" fill="#333" text-anchor="middle" font-weight="bold">24</text>
<text x="445.0" y="360.2" font-size="3.0" font-family="Liberation Sans, sans-serif" fill="#333" text-anchor="middle" font-weight="bold">25</text>
<text x="449.76" y="360.2" font-size="3.0" font-family="Liberation Sans, sans-serif" fill="#333" text-anchor="middle" font-weight="bold">26</text>
<text x="454.52" y="360.2" font-size="3.0" font-family="Liberation Sans, sans-serif" fill="#333" text-anchor="middle" font-weight="bold">27</text>
<text x="459.28" y="360.2" font-size="3.0" font-family="Liberation Sans, sans-serif" fill="#333" text-anchor="middle" font-weight="bold">28</text>
<text x="464.04" y="360.2" font-size="3.0" font-family="Liberation Sans, sans-serif" fill="#333" text-anchor="middle" font-weight="bold">29</text>
<text x="468.8" y="360.2" font-size="3.0" font-family="Liberation Sans, sans-serif" fill="#333" text-anchor="middle" font-weight="bold">30</text>
<text x="473.56" y="360.2" font-size="3.0" font-family="Liberation Sans, sans-serif" fill="#333" text-anchor="middle" font-weight="bold">31</text>
<text x="478.32" y="360.2" font-size="3.0" font-family="Liberation Sans, sans-serif" fill="#333" text-anchor="middle" font-weight="bold">32</text>
<text x="483.08" y="360.2" font-size="3.0" font-family="Liberation Sans, sans-serif" fill="#333" text-anchor="middle" font-weight="bold">33</text>
<text x="487.84" y="360.2" font-size="3.0" font-family="Liberation Sans, sans-serif" fill="#333" text-anchor="middle" font-weight="bold">34</text>
<text x="492.6" y="360.2" font-size="3.0" font-family="Liberation Sans, sans-serif" fill="#333" text-anchor="middle" font-weight="bold">35</text>
<text x="497.36" y="360.2" font-size="3.0" font-family="Liberation Sans, sans-serif" fill="#333" text-anchor="middle" font-weight="bold">36</text>
<text x="502.12" y="360.2" font-size="3.0" font-family="Liberation Sans, sans-serif" fill="#333" text-anchor="middle" font-weight="bold">37</text>
<text x="506.88" y="360.2" font-size="3.0" font-family="Liberation Sans, sans-serif" fill="#333" text-anchor="middle" font-weight="bold">38</text>
<text x="511.64" y="360.2" font-size="3.0" font-family="Liberation Sans, sans-serif" fill="#333" text-anchor="middle" font-weight="bold">39</text>
<text x="516.4" y="360.2" font-size="3.0" font-family="Liberation Sans, sans-serif" fill="#333" text-anchor="middle" font-weight="bold">40</text>
<text x="440.3" y="367.7" font-size="2.7" font-family="Liberation Sans, sans-serif" fill="#222" text-anchor="middle" font-weight="bold" stroke="#222" stroke-width="0.15">Cycle Number</text>
<text transform="translate(403.59999999999997,278.95) rotate(-90)" font-size="3.0" font-family="Liberation Sans, sans-serif" font-weight="bold" fill="#333" text-anchor="middle">Delta Rn</text>
<line x1="173.5" y1="67.2" x2="270.5" y2="67.2" stroke="#2f402f" stroke-width="1.1"/>
<path d="M173.6,156.5 L174.4,138.9 L175.3,121.4" fill="none" stroke="#222" stroke-width="0.9" stroke-linejoin="round" stroke-linecap="round" />
<path d="M175.3,121.4 L178.3,121.4" fill="none" stroke="#111" stroke-width="1.0" stroke-linejoin="round" stroke-linecap="round" />
<path d="M178.6,121.4 L176.6,120.1 L176.6,122.7 Z" fill="#111"/>
<path d="M175.3,121.4 C175.5,120.4 176.0,117.9 176.7,115.2 C177.4,112.5 178.7,108.7 179.7,105.5 C180.7,102.3 181.4,98.8 182.5,96.0 C183.6,93.2 184.4,91.4 186.0,88.6 C187.6,85.8 190.3,81.9 192.2,79.0 C194.1,76.1 195.9,73.1 197.4,71.1 C198.9,69.1 199.5,69.0 201.0,67.2 C202.5,65.5 204.3,62.6 206.2,60.6 C208.1,58.6 210.5,56.7 212.4,55.3 C214.3,53.9 216.0,52.9 217.6,52.1 C219.2,51.3 219.9,51.1 222.0,50.4 C224.1,49.7 228.7,48.4 230.0,48.0" fill="none" stroke="#111" stroke-width="3.2" stroke-linejoin="round" stroke-linecap="round" />
<path d="M222.0,50.4 C223.3,50.0 227.1,48.7 230.0,48.0 C232.9,47.3 235.0,46.8 239.5,46.1 C244.0,45.4 251.9,44.5 257.1,43.9 C262.3,43.3 268.3,42.8 270.5,42.6" fill="none" stroke="#111" stroke-width="2.3" stroke-linejoin="round" stroke-linecap="round" />
<path d="M213.4,109.9 C214.9,107.7 219.9,100.5 222.5,96.5 C225.1,92.5 226.9,89.1 229.0,86.0 C231.1,82.9 232.9,81.0 235.2,77.7 C237.5,74.4 240.8,69.2 243.0,66.3 C245.2,63.4 246.7,62.1 248.5,60.5 C250.3,58.9 251.3,57.9 253.6,56.5 C255.9,55.1 259.6,53.2 262.4,52.2 C265.2,51.2 269.1,51.0 270.5,50.8" fill="none" stroke="#1b1b4a" stroke-width="3.4" stroke-linejoin="round" stroke-linecap="round" />
<path d="M217.0,107.5 C218.1,105.8 221.4,100.8 223.5,97.5 C225.6,94.2 227.4,91.1 229.5,88.0 C231.6,84.9 233.7,82.2 236.0,78.8 C238.3,75.4 241.3,70.6 243.5,67.8 C245.7,65.0 247.2,63.5 249.0,61.8 C250.8,60.1 251.8,59.2 254.0,57.8 C256.2,56.4 259.6,54.4 262.4,53.4 C265.1,52.4 269.1,52.2 270.5,52.0" fill="none" stroke="#1b1b4a" stroke-width="1.8" stroke-linejoin="round" stroke-linecap="round" />
<path d="M202.4,121.7 L208.0,115.5 L213.4,109.9" fill="none" stroke="#1b1b4a" stroke-width="1.5" stroke-linejoin="round" stroke-linecap="round" />
<path d="M202.4,155.0 C202.9,152.6 204.5,145.3 205.5,140.6 C206.5,135.9 207.3,130.4 208.2,126.6 C209.1,122.8 209.8,120.6 210.8,117.8 C211.8,115.0 213.5,111.3 214.0,110.0" fill="none" stroke="#1b1b4a" stroke-width="1.3" stroke-linejoin="round" stroke-linecap="round" />
<path d="M202.4,156.4 C203.2,154.9 206.1,151.1 207.3,147.6 C208.6,144.1 209.3,139.8 209.9,135.4 C210.5,131.0 210.6,125.0 211.1,121.3 C211.6,117.6 212.7,114.4 213.0,113.0" fill="none" stroke="#1b1b4a" stroke-width="1.2" stroke-linejoin="round" stroke-linecap="round" />
<path d="M216.9,117.8 C217.7,116.0 220.0,110.3 221.5,107.0 C223.0,103.7 225.2,99.5 226.0,98.0" fill="none" stroke="#1b1b4a" stroke-width="1.2" stroke-linejoin="round" stroke-linecap="round" />
<text x="182.9" y="57.9" font-size="9.9" font-family="Liberation Serif, serif" fill="#111" text-anchor="start" stroke="#111" stroke-width="0.4">In put</text>
<text x="234.5" y="99.4" font-size="9.9" font-family="Liberation Serif, serif" fill="#111" text-anchor="start" stroke="#111" stroke-width="0.4">negative</text>
<text x="234.5" y="112.2" font-size="9.9" font-family="Liberation Serif, serif" fill="#111" text-anchor="start" stroke="#111" stroke-width="0.4">control</text>
<line x1="299" y1="61.3" x2="395.8" y2="61.3" stroke="#222" stroke-width="1.0"/>
<path d="M299.2,123.8 L303.5,120.8 L306.5,121.0 L308.9,123.2 L312.6,128.7 L314.5,122.0 L316.6,115.0" fill="none" stroke="#b03aa8" stroke-width="1.4" stroke-linejoin="round" stroke-linecap="round" />
<path d="M316.6,115.0 C317.2,112.5 318.9,103.8 320.5,100.0 C322.1,96.2 324.2,94.9 326.0,92.4 C327.8,89.9 329.6,87.4 331.4,84.9 C333.2,82.4 335.4,79.1 336.8,77.3 C338.2,75.5 338.3,75.7 340.0,74.0 C341.7,72.3 344.6,69.5 346.8,67.2 C349.1,64.9 351.3,62.4 353.5,60.4 C355.7,58.4 357.8,57.0 360.0,55.5 C362.2,54.0 363.6,53.3 367.0,51.6 C370.4,49.9 375.8,47.0 380.5,45.5 C385.2,44.0 392.6,43.2 395.0,42.8" fill="none" stroke="#b03aa8" stroke-width="1.4" stroke-linejoin="round" stroke-linecap="round" />
<path d="M299.5,109.3 C300.2,109.3 302.6,109.2 303.8,109.3 C305.0,109.4 305.3,109.8 306.6,109.8 C307.9,109.8 309.8,110.0 311.4,109.3 C313.0,108.6 314.7,107.1 316.1,105.5 C317.5,103.9 318.8,101.5 319.9,99.9 C321.0,98.3 322.1,96.7 322.5,96.0" fill="none" stroke="#2f8070" stroke-width="1.2" stroke-linejoin="round" stroke-linecap="round" />
<path d="M304.5,107.0 C304.9,106.3 305.6,104.0 306.6,102.7 C307.6,101.4 308.8,100.9 310.4,99.0 C312.0,97.1 314.1,94.1 316.2,91.4 C318.2,88.7 320.5,85.4 322.7,82.7 C324.9,80.0 326.8,77.6 329.2,75.1 C331.6,72.6 335.0,69.4 336.8,67.6 C338.6,65.8 338.3,65.9 340.0,64.3 C341.7,62.7 344.6,59.9 346.8,58.0 C349.1,56.1 351.3,54.4 353.5,53.0 C355.7,51.6 357.8,50.6 360.0,49.6 C362.2,48.6 363.6,47.9 367.0,46.9 C370.4,45.9 375.8,44.4 380.5,43.5 C385.2,42.6 392.6,41.8 395.0,41.5" fill="none" stroke="#2f8070" stroke-width="1.3" stroke-linejoin="round" stroke-linecap="round" />
<path d="M304.7,106.5 C305.1,105.4 305.8,102.3 307.0,100.0 C308.2,97.7 310.0,95.1 311.9,92.4 C313.8,89.7 316.2,86.5 318.4,83.8 C320.6,81.1 322.7,78.7 324.9,76.2 C327.1,73.7 329.2,71.0 331.4,68.6 C333.5,66.2 335.2,64.2 337.8,61.6 C340.4,59.0 344.2,55.4 346.8,53.0 C349.4,50.6 351.3,48.8 353.5,47.5 C355.7,46.2 357.8,45.8 360.0,45.0 C362.2,44.2 363.6,43.7 367.0,43.0 C370.4,42.3 375.8,41.2 380.5,40.6 C385.2,40.0 392.6,39.4 395.0,39.2" fill="none" stroke="#ecd466" stroke-width="1.5" stroke-linejoin="round" stroke-linecap="round" />
<path d="M301.4,113.1 C301.8,111.8 303.0,107.7 303.8,105.5 C304.6,103.3 305.6,100.9 306.0,100.0" fill="none" stroke="#4a6fd0" stroke-width="0.9" stroke-linejoin="round" stroke-linecap="round" stroke-dasharray="1.5 0.8"/>
<path d="M303.8,100.0 C304.6,98.6 306.9,94.3 308.6,91.4 C310.3,88.5 312.3,85.2 314.1,82.7 C315.9,80.2 317.7,78.4 319.5,76.2 C321.3,74.0 322.9,72.0 324.9,69.7 C326.9,67.4 328.9,64.8 331.4,62.2 C333.9,59.6 337.4,56.3 340.0,54.0 C342.6,51.7 344.6,49.9 346.8,48.3 C349.1,46.7 351.3,45.5 353.5,44.5 C355.7,43.5 357.8,42.9 360.0,42.2 C362.2,41.5 363.6,40.9 367.0,40.3 C370.4,39.7 375.8,38.9 380.5,38.4 C385.2,37.9 392.6,37.6 395.0,37.4" fill="none" stroke="#7444b4" stroke-width="2.0" stroke-linejoin="round" stroke-linecap="round" />
<path d="M340.0,53.2 C341.1,52.2 344.6,49.1 346.8,47.5 C349.1,45.9 350.1,45.0 353.5,43.7 C356.9,42.4 362.5,40.6 367.0,39.6 C371.5,38.6 375.8,38.3 380.5,37.8 C385.2,37.3 392.6,36.9 395.0,36.7" fill="none" stroke="#7a2040" stroke-width="0.8" stroke-linejoin="round" stroke-linecap="round" />
<text x="311.8" y="43.8" font-size="9.3" font-family="Liberation Serif, serif" fill="#1a2a22" text-anchor="start" stroke="#1a2a22" stroke-width="0.3">FK228</text>
<text x="272.7" y="53.8" font-size="9.1" font-family="Liberation Serif, serif" fill="#c41a40" text-anchor="start" stroke="#c41a40" stroke-width="0.25">ATRA/FK228</text>
<text x="373.1" y="60" font-size="9.2" font-family="Liberation Serif, serif" fill="#222" text-anchor="start" stroke="#222" stroke-width="0.3">Cont</text>
<text x="354.2" y="69.9" font-size="8.8" font-family="Liberation Serif, serif" fill="#222" text-anchor="start" stroke="#222" stroke-width="0.3">ATRA</text>
<line x1="333.2" y1="45.9" x2="338.88" y2="51.16" stroke="#111" stroke-width="1.0"/>
<path d="M341.3,53.4 L337.94,52.17 L339.82,50.14 Z" fill="#111"/>
<line x1="311" y1="59.4" x2="323.10" y2="66.02" stroke="#111" stroke-width="1.0"/>
<path d="M326,67.6 L322.44,67.23 L323.77,64.80 Z" fill="#111"/>
<line x1="379.2" y1="52.3" x2="375.43" y2="48.53" stroke="#111" stroke-width="1.0"/>
<path d="M373.1,46.2 L376.41,47.55 L374.45,49.51 Z" fill="#111"/>
<line x1="352.8" y1="65.1" x2="349.37" y2="61.79" stroke="#111" stroke-width="1.0"/>
<path d="M347,59.5 L350.34,60.80 L348.41,62.79 Z" fill="#111"/>
<line x1="422.5" y1="62" x2="518" y2="62" stroke="#5e6660" stroke-width="1.9"/>
<path d="M423.2,109.7 L426.5,110.2" fill="none" stroke="#1e2466" stroke-width="1.0" stroke-linejoin="round" stroke-linecap="round" />
<path d="M424.0,113.4 L428.1,115.8 L431.3,118.3" fill="none" stroke="#1e2466" stroke-width="1.0" stroke-linejoin="round" stroke-linecap="round" />
<path d="M436.2,118.3 C435.5,117.8 432.1,116.5 432.2,115.0 C432.3,113.5 435.5,111.2 437.0,109.5 C438.5,107.8 439.9,106.9 441.4,105.0 C442.9,103.1 444.3,100.7 445.9,98.0 C447.5,95.3 449.5,91.5 451.1,88.8 C452.7,86.0 453.9,83.9 455.5,81.5 C457.1,79.1 459.2,76.3 460.8,74.2 C462.4,72.1 463.6,70.4 465.0,68.8 C466.4,67.2 467.2,66.2 469.0,64.5 C470.8,62.8 474.0,60.2 475.5,58.8 C477.0,57.4 476.3,57.3 478.1,55.9 C479.9,54.5 483.5,51.7 486.2,50.2 C488.9,48.7 491.7,47.9 494.4,46.9 C497.1,45.9 499.9,45.1 502.5,44.5 C505.1,43.9 507.3,43.7 510.0,43.4 C512.7,43.1 517.1,43.0 518.5,42.9" fill="none" stroke="#1e2466" stroke-width="1.5" stroke-linejoin="round" stroke-linecap="round" />
<path d="M437.0,127.2 C437.3,124.8 437.7,116.4 438.6,112.6 C439.6,108.8 442.0,105.8 442.7,104.5" fill="none" stroke="#3050b0" stroke-width="0.9" stroke-linejoin="round" stroke-linecap="round" />
<path d="M441.1,117.4 L446.7,111.8" fill="none" stroke="#3050b0" stroke-width="0.9" stroke-linejoin="round" stroke-linecap="round" />
<path d="M442.1,118.6 L447.7,113.0" fill="none" stroke="#3050b0" stroke-width="0.9" stroke-linejoin="round" stroke-linecap="round" />
<path d="M435.4,118.3 L441.1,135.3 L445.9,152.3 L448.4,130.4 L450.0,107.7" fill="none" stroke="#2e6b3a" stroke-width="1.2" stroke-linejoin="round" stroke-linecap="round" />
<path d="M450.0,107.7 C450.4,105.9 451.3,100.0 452.5,97.0 C453.7,94.0 455.3,92.3 457.0,90.0 C458.7,87.7 460.2,85.6 462.5,83.0 C464.8,80.4 468.0,77.1 470.6,74.5 C473.2,71.9 475.5,69.9 478.1,67.2 C480.7,64.5 483.5,60.7 486.2,58.3 C488.9,55.9 491.7,54.3 494.4,52.6 C497.1,50.9 499.9,49.4 502.5,48.3 C505.1,47.2 507.3,46.4 510.0,45.8 C512.7,45.2 517.1,45.0 518.5,44.8" fill="none" stroke="#2e6b3a" stroke-width="1.2" stroke-linejoin="round" stroke-linecap="round" />
<path d="M448.4,104.5 C449.1,103.3 451.2,99.6 452.5,97.5 C453.8,95.4 454.3,94.6 456.0,92.1 C457.7,89.6 460.1,85.5 462.5,82.3 C464.9,79.0 468.0,75.6 470.6,72.6 C473.2,69.5 475.5,66.8 478.1,64.0 C480.7,61.2 483.5,58.1 486.2,55.9 C488.9,53.7 491.7,52.4 494.4,51.0 C497.1,49.6 499.9,48.6 502.5,47.7 C505.1,46.8 507.3,46.1 510.0,45.6 C512.7,45.1 517.1,44.7 518.5,44.5" fill="none" stroke="#a82a2a" stroke-width="1.4" stroke-linejoin="round" stroke-linecap="round" />
<path d="M452.0,103.0 C452.6,102.0 454.3,98.8 455.5,97.0 C456.7,95.2 457.4,94.2 459.0,92.0 C460.6,89.8 462.8,86.4 465.0,83.5 C467.2,80.6 470.1,77.4 472.5,74.5 C474.9,71.6 477.1,68.8 479.5,66.0 C481.9,63.2 484.4,60.2 487.0,58.0 C489.6,55.8 492.3,54.0 495.0,52.5 C497.7,51.0 500.5,49.8 503.0,48.8 C505.5,47.8 507.4,47.0 510.0,46.4 C512.6,45.8 517.1,45.4 518.5,45.2" fill="none" stroke="#3a1a10" stroke-width="1.2" stroke-linejoin="round" stroke-linecap="round" />
<path d="M455.7,111.8 C456.4,109.5 458.3,101.9 459.7,98.0 C461.1,94.1 462.3,92.1 464.0,88.5 C465.7,84.9 468.0,79.8 470.0,76.5 C472.0,73.2 474.0,71.0 476.0,68.5 C478.0,66.0 479.7,63.8 482.0,61.5 C484.3,59.2 487.0,57.0 490.0,55.0 C493.0,53.0 496.7,50.8 500.0,49.3 C503.3,47.8 506.9,46.7 510.0,46.0 C513.1,45.3 517.1,45.2 518.5,45.0" fill="none" stroke="#222" stroke-width="1.3" stroke-linejoin="round" stroke-linecap="round" />
<text x="425.7" y="47.2" font-size="9.0" font-family="Liberation Serif, serif" fill="#c41a40" text-anchor="start" stroke="#c41a40" stroke-width="0.25">ATRA/FK228</text>
<text x="493.5" y="76.6" font-size="8.9" font-family="Liberation Serif, serif" fill="#222" text-anchor="start" stroke="#222" stroke-width="0.3">Cont</text>
<text x="480.6" y="83.1" font-size="8.7" font-family="Liberation Serif, serif" fill="#222" text-anchor="start" stroke="#222" stroke-width="0.3">ATRA</text>
<text x="474.1" y="92.4" font-size="8.9" font-family="Liberation Serif, serif" fill="#1a2a22" text-anchor="start" stroke="#1a2a22" stroke-width="0.3">FK228</text>
<line x1="460" y1="49" x2="471.79" y2="56.27" stroke="#111" stroke-width="1.0"/>
<path d="M474.6,58 L471.06,57.45 L472.52,55.09 Z" fill="#111"/>
<line x1="491.9" y1="68.8" x2="487.75" y2="64.72" stroke="#111" stroke-width="1.0"/>
<path d="M485.4,62.4 L488.72,63.73 L486.78,65.70 Z" fill="#111"/>
<line x1="482.2" y1="74.5" x2="479.66" y2="72.01" stroke="#111" stroke-width="1.0"/>
<path d="M477.3,69.7 L480.63,71.02 L478.69,73.00 Z" fill="#111"/>
<line x1="474.9" y1="84.3" x2="472.92" y2="81.93" stroke="#111" stroke-width="1.0"/>
<path d="M470.8,79.4 L473.98,81.04 L471.85,82.82 Z" fill="#111"/>
<line x1="176" y1="230.1" x2="271" y2="230.1" stroke="#4a5a4a" stroke-width="1.6"/>
<path d="M175.8,280.0 C176.0,279.0 176.3,276.0 176.7,273.8 C177.1,271.6 177.4,268.8 178.0,267.0 C178.6,265.2 179.7,263.7 180.0,263.0" fill="none" stroke="#2f6d5e" stroke-width="0.9" stroke-linejoin="round" stroke-linecap="round" />
<path d="M184.1,265.7 C184.4,264.8 185.2,261.6 186.1,260.3 C187.0,259.0 188.2,258.3 189.5,257.6 C190.8,256.9 192.2,257.3 193.6,256.2 C194.9,255.1 196.0,252.6 197.6,250.8 C199.2,249.0 201.5,246.9 203.0,245.4 C204.5,243.9 205.8,242.6 206.4,242.0" fill="none" stroke="#5e1a1a" stroke-width="1.1" stroke-linejoin="round" stroke-linecap="round" />
<path d="M180.7,263.0 C181.1,262.6 182.4,261.0 183.4,260.3 C184.4,259.6 185.6,260.0 186.8,258.9 C188.1,257.8 189.3,255.1 190.9,253.5 C192.5,251.9 194.5,250.8 196.3,249.5 C198.1,248.2 200.2,246.7 201.7,245.4 C203.1,244.2 204.4,242.6 205.0,242.0" fill="none" stroke="#5e1a1a" stroke-width="1.1" stroke-linejoin="round" stroke-linecap="round" />
<path d="M180.1,305.7 C180.2,304.4 180.4,300.1 180.8,297.6 C181.2,295.1 182.0,293.2 182.8,290.8 C183.6,288.4 184.5,286.1 185.5,283.5 C186.5,280.9 187.3,278.7 189.0,275.0 C190.7,271.3 193.4,265.7 195.8,261.5 C198.2,257.3 201.0,253.5 203.5,250.0 C206.0,246.5 208.9,243.3 211.0,240.5 C213.1,237.7 214.2,235.2 216.0,233.0 C217.8,230.8 221.1,228.2 222.1,227.3" fill="none" stroke="#111" stroke-width="2.5" stroke-linejoin="round" stroke-linecap="round" />
<path d="M216.0,233.0 C217.0,232.1 219.4,229.3 222.1,227.3 C224.8,225.3 229.0,222.6 232.3,221.2 C235.6,219.8 238.6,219.3 242.0,218.6 C245.4,217.9 247.8,217.7 252.6,217.2 C257.4,216.7 267.9,215.8 271.0,215.5" fill="none" stroke="#111" stroke-width="3.1" stroke-linejoin="round" stroke-linecap="round" />
<path d="M180.1,324.6 C179.8,322.8 178.7,316.7 178.1,313.8 C177.5,310.9 176.8,309.0 176.7,307.0 C176.6,305.0 177.1,303.6 177.4,301.6 C177.7,299.6 178.1,297.1 178.7,294.9 C179.3,292.6 179.9,290.6 180.8,288.1 C181.7,285.6 183.1,282.4 184.1,280.0 C185.1,277.6 185.2,277.1 186.8,273.8 C188.4,270.5 191.3,264.2 193.6,260.3 C195.8,256.4 198.1,253.2 200.3,250.1 C202.6,246.9 205.2,243.9 207.1,241.4 C209.0,238.9 211.2,236.1 212.0,235.0" fill="none" stroke="#1a2a1a" stroke-width="1.3" stroke-linejoin="round" stroke-linecap="round" />
<path d="M176.7,307.0 C176.8,306.3 177.0,304.5 177.5,303.0 C178.0,301.5 178.8,299.8 179.5,298.0 C180.2,296.2 181.6,293.0 182.0,292.0" fill="none" stroke="#1a2a1a" stroke-width="1.0" stroke-linejoin="round" stroke-linecap="round" />
<path d="M222.6,308.2 C223.4,305.3 225.3,297.2 227.2,290.7 C229.1,284.2 231.7,275.1 233.9,269.0 C236.2,262.9 238.2,258.7 240.7,254.2 C243.2,249.7 245.9,245.8 248.8,242.0 C251.7,238.2 255.5,233.9 258.2,231.2 C260.9,228.5 262.7,227.3 265.0,226.0 C267.3,224.7 270.7,223.6 271.8,223.1" fill="none" stroke="#1b1b4a" stroke-width="2.4" stroke-linejoin="round" stroke-linecap="round" />
<path d="M222.6,290.7 C223.8,288.0 227.7,279.3 229.9,274.5 C232.1,269.7 235.0,264.1 236.0,262.0" fill="none" stroke="#1b1b4a" stroke-width="1.3" stroke-linejoin="round" stroke-linecap="round" />
<text x="188.6" y="220.6" font-size="9.4" font-family="Liberation Serif, serif" fill="#111" text-anchor="start" stroke="#111" stroke-width="0.4">In put</text>
<text x="236.9" y="259.4" font-size="9.3" font-family="Liberation Serif, serif" fill="#111" text-anchor="start" stroke="#111" stroke-width="0.4">negative</text>
<text x="236.9" y="271.1" font-size="9.3" font-family="Liberation Serif, serif" fill="#111" text-anchor="start" stroke="#111" stroke-width="0.4">control</text>
<line x1="298.3" y1="229.3" x2="392" y2="229.3" stroke="#2a3a2a" stroke-width="1.4"/>
<path d="M298.6,322.0 C298.8,323.3 299.2,327.2 299.5,330.0 C299.8,332.8 300.3,337.4 300.5,338.9" fill="none" stroke="#2a2a80" stroke-width="1.0" stroke-linejoin="round" stroke-linecap="round" />
<path d="M305.6,310.0 C306.2,308.6 308.4,303.6 309.3,301.5 C310.2,299.4 310.9,298.3 311.2,297.7" fill="none" stroke="#2a2a80" stroke-width="1.0" stroke-linejoin="round" stroke-linecap="round" />
<path d="M300.8,311.9 C301.6,309.8 303.9,303.2 305.6,299.6 C307.3,296.0 309.0,293.2 311.2,290.1 C313.4,287.0 316.9,283.3 318.8,280.7 C320.7,278.1 321.3,276.6 322.6,274.5 C323.9,272.4 324.6,271.3 326.7,268.3 C328.8,265.3 332.2,260.4 334.9,256.5 C337.5,252.6 340.0,248.8 342.6,245.1 C345.2,241.4 347.9,237.0 350.3,234.2 C352.7,231.4 354.8,230.0 357.0,228.3 C359.2,226.6 361.2,225.3 363.7,224.0 C366.2,222.7 368.9,221.4 372.0,220.4 C375.1,219.4 378.6,218.6 382.0,218.0 C385.4,217.4 390.9,216.9 392.7,216.7" fill="none" stroke="#2f8a4a" stroke-width="1.0" stroke-linejoin="round" stroke-linecap="round" />
<path d="M300.5,338.9 C300.9,335.5 301.7,323.8 302.7,318.5 C303.7,313.2 305.4,310.1 306.5,307.1 C307.6,304.1 308.4,301.4 309.3,300.5 C310.2,299.6 311.2,301.0 312.2,301.5 C313.1,302.0 313.9,304.3 315.0,303.4 C316.1,302.4 317.5,298.6 318.8,295.8 C320.1,293.0 321.5,289.4 322.6,286.3 C323.7,283.2 324.5,280.1 325.5,277.0 C326.5,273.9 326.9,271.1 328.8,267.5 C330.7,263.9 334.3,259.1 336.9,255.3 C339.5,251.5 341.6,248.2 344.2,244.7 C346.8,241.2 350.0,236.8 352.3,234.2 C354.6,231.6 356.1,230.5 358.0,229.0 C359.9,227.5 361.4,226.4 363.7,225.2 C366.0,223.9 368.9,222.5 372.0,221.5 C375.1,220.5 378.6,219.6 382.0,219.0 C385.4,218.4 390.9,218.0 392.7,217.8" fill="none" stroke="#2e2a6e" stroke-width="1.5" stroke-linejoin="round" stroke-linecap="round" />
<path d="M301.8,303.4 C302.4,302.1 304.0,297.9 305.6,295.8 C307.2,293.8 309.3,293.0 311.2,291.1 C313.1,289.2 315.9,285.6 316.9,284.5" fill="none" stroke="#c0203a" stroke-width="1.0" stroke-linejoin="round" stroke-linecap="round" />
<path d="M316.9,284.5 C317.5,283.2 319.2,279.1 320.5,276.5 C321.8,273.9 322.6,272.2 324.7,269.1 C326.8,266.0 330.2,261.6 332.9,257.7 C335.6,253.8 338.4,249.4 341.0,245.5 C343.6,241.6 345.9,237.2 348.3,234.2 C350.7,231.2 353.0,229.6 355.6,227.7 C358.2,225.8 361.0,224.2 363.7,222.8 C366.4,221.4 368.9,220.3 372.0,219.3 C375.1,218.3 378.6,217.6 382.0,217.0 C385.4,216.4 390.9,215.8 392.7,215.6" fill="none" stroke="#4a1030" stroke-width="2.0" stroke-linejoin="round" stroke-linecap="round" />
<path d="M318.5,284.0 C319.2,282.8 321.2,279.1 322.6,276.5 C324.0,273.9 324.6,271.9 326.7,268.6 C328.8,265.3 332.2,260.6 334.9,256.7 C337.5,252.8 340.0,249.0 342.6,245.3 C345.2,241.6 347.9,237.2 350.3,234.4 C352.7,231.6 354.8,230.1 357.0,228.4 C359.2,226.7 361.2,225.3 363.7,224.0 C366.2,222.7 368.9,221.4 372.0,220.4 C375.1,219.4 378.6,218.6 382.0,218.0 C385.4,217.4 390.9,216.9 392.7,216.7" fill="none" stroke="#c0305a" stroke-width="0.8" stroke-linejoin="round" stroke-linecap="round" />
<text x="327.4" y="222.6" font-size="9" font-family="Liberation Serif, serif" fill="#222" text-anchor="start" stroke="#222" stroke-width="0.3">Cont</text>
<text x="308.5" y="237.4" font-size="8.9" font-family="Liberation Serif, serif" fill="#222" text-anchor="start" stroke="#222" stroke-width="0.3">FK228</text>
<text x="357.2" y="250.3" font-size="8.8" font-family="Liberation Serif, serif" fill="#222" text-anchor="start" stroke="#222" stroke-width="0.3">ATRA</text>
<text x="345" y="265" font-size="8.2" font-family="Liberation Serif, serif" fill="#c41a40" text-anchor="start" stroke="#c41a40" stroke-width="0.25">ATRA/FK228</text>
<line x1="344.2" y1="224.4" x2="348.02" y2="229.89" stroke="#111" stroke-width="1.0"/>
<path d="M349.9,232.6 L346.88,230.68 L349.15,229.10 Z" fill="#111"/>
<line x1="332" y1="237.4" x2="338.10" y2="240.72" stroke="#111" stroke-width="1.0"/>
<path d="M341,242.3 L337.44,241.94 L338.76,239.50 Z" fill="#111"/>
<line x1="355.6" y1="245.5" x2="352.87" y2="242.38" stroke="#111" stroke-width="1.0"/>
<path d="M350.7,239.9 L353.92,241.47 L351.83,243.30 Z" fill="#111"/>
<line x1="346.7" y1="256.9" x2="344.13" y2="254.33" stroke="#111" stroke-width="1.0"/>
<path d="M341.8,252 L345.11,253.35 L343.15,255.31 Z" fill="#111"/>
<line x1="421.5" y1="235.6" x2="517" y2="235.6" stroke="#444" stroke-width="1.5"/>
<path d="M421.5,307.2 L424.9,321.8 L427.3,316.9" fill="none" stroke="#2a2a80" stroke-width="1.1" stroke-linejoin="round" stroke-linecap="round" />
<path d="M421.5,329.9 L423.2,340.5 L425.7,351.8 L428.1,340.5 L430.6,334.0" fill="none" stroke="#2a2a80" stroke-width="1.1" stroke-linejoin="round" stroke-linecap="round" />
<path d="M430.6,333.1 L435.4,342.9" fill="none" stroke="#2e6b3a" stroke-width="1.0" stroke-linejoin="round" stroke-linecap="round" />
<path d="M421.5,328.3 L424.1,326.7 L427.3,317.7 L430.6,309.6 L434.6,311.2 L437.9,322.6 L441.1,335.6 L444.4,347.0 L446.8,335.6 L449.2,318.5 L452.5,308.0 L456.0,299.0 L459.0,292.0" fill="none" stroke="#9a2a48" stroke-width="1.2" stroke-linejoin="round" stroke-linecap="round" />
<path d="M444.4,336.4 C444.9,334.0 446.7,326.7 447.6,321.8 C448.5,316.9 448.9,311.7 450.0,307.2 C451.1,302.7 452.8,298.4 454.1,295.0 C455.4,291.6 457.0,289.4 458.0,287.0 C459.0,284.6 459.0,283.8 460.3,280.7 C461.6,277.6 463.9,272.8 465.7,268.5 C467.5,264.2 469.2,259.1 471.1,255.0 C473.0,250.9 474.9,247.4 477.0,244.0 C479.1,240.6 481.8,236.8 484.0,234.5 C486.2,232.2 487.3,231.6 490.0,230.0 C492.7,228.4 496.7,226.3 500.0,225.0 C503.3,223.7 507.1,222.9 510.0,222.3 C512.9,221.7 516.2,221.6 517.5,221.5" fill="none" stroke="#2e7a3e" stroke-width="1.2" stroke-linejoin="round" stroke-linecap="round" />
<path d="M454.1,321.8 C454.5,319.8 455.6,314.1 456.5,309.6 C457.4,305.1 458.7,299.1 459.8,295.0 C460.9,290.9 461.7,289.2 463.0,285.0 C464.3,280.8 466.0,274.0 467.7,269.9 C469.4,265.8 471.4,263.7 473.1,260.4 C474.8,257.1 476.2,253.3 478.0,250.0 C479.8,246.7 482.0,243.2 484.0,240.5 C486.0,237.8 487.3,236.2 490.0,234.0 C492.7,231.8 496.7,229.2 500.0,227.5 C503.3,225.8 507.1,224.6 510.0,223.8 C512.9,223.0 516.2,222.7 517.5,222.5" fill="none" stroke="#7a1a30" stroke-width="1.3" stroke-linejoin="round" stroke-linecap="round" />
<path d="M458.2,305.0 C458.8,303.0 460.3,298.0 462.0,293.0 C463.7,288.0 466.5,279.8 468.5,275.0 C470.5,270.2 471.6,268.8 473.8,264.5 C476.0,260.2 479.3,253.4 481.5,249.0 C483.7,244.6 485.2,240.9 487.2,238.0 C489.2,235.1 491.6,233.2 493.7,231.5 C495.8,229.8 497.3,229.2 500.0,228.0 C502.7,226.8 507.1,225.2 510.0,224.5 C512.9,223.8 516.2,223.7 517.5,223.5" fill="none" stroke="#b02a38" stroke-width="1.3" stroke-linejoin="round" stroke-linecap="round" />
<path d="M452.5,304.7 C453.0,303.6 454.8,300.8 455.7,298.2 C456.6,295.6 456.4,292.4 457.6,288.8 C458.8,285.2 461.4,280.4 463.0,276.6 C464.6,272.8 465.7,269.8 467.0,265.8 C468.3,261.8 469.2,256.7 471.0,252.6 C472.8,248.5 475.3,244.3 477.5,241.2 C479.7,238.1 481.3,236.2 484.0,233.9 C486.7,231.6 491.0,229.0 493.7,227.4 C496.4,225.8 497.3,225.5 500.0,224.5 C502.7,223.5 507.1,222.2 510.0,221.5 C512.9,220.8 516.2,220.5 517.5,220.3" fill="none" stroke="#1e2466" stroke-width="1.5" stroke-linejoin="round" stroke-linecap="round" />
<text x="453.5" y="225.8" font-size="8.9" font-family="Liberation Serif, serif" fill="#222" text-anchor="start" stroke="#222" stroke-width="0.3">Cont</text>
<text x="496.5" y="244.8" font-size="8.6" font-family="Liberation Serif, serif" fill="#222" text-anchor="start" stroke="#222" stroke-width="0.3">ATRA</text>
<text x="487" y="256.3" font-size="8.8" font-family="Liberation Serif, serif" fill="#1a2a22" text-anchor="start" stroke="#1a2a22" stroke-width="0.3">FK228</text>
<text x="471" y="268.2" font-size="8.2" font-family="Liberation Serif, serif" fill="#c41a40" text-anchor="start" stroke="#c41a40" stroke-width="0.25">ATRA/FK228</text>
<line x1="466.1" y1="226.6" x2="476.39" y2="233.72" stroke="#111" stroke-width="1.0"/>
<path d="M479.1,235.6 L475.60,234.86 L477.18,232.58 Z" fill="#111"/>
<line x1="496.5" y1="240.6" x2="493.34" y2="239.00" stroke="#111" stroke-width="1.0"/>
<path d="M490.4,237.5 L493.97,237.76 L492.71,240.23 Z" fill="#111"/>
<line x1="486.4" y1="249.7" x2="483.42" y2="246.13" stroke="#111" stroke-width="1.0"/>
<path d="M481.3,243.6 L484.48,245.24 L482.35,247.02 Z" fill="#111"/>
<line x1="483.1" y1="255" x2="480.45" y2="251.91" stroke="#111" stroke-width="1.0"/>
<path d="M478.3,249.4 L481.50,251.00 L479.40,252.81 Z" fill="#111"/>
</svg></body></html>
